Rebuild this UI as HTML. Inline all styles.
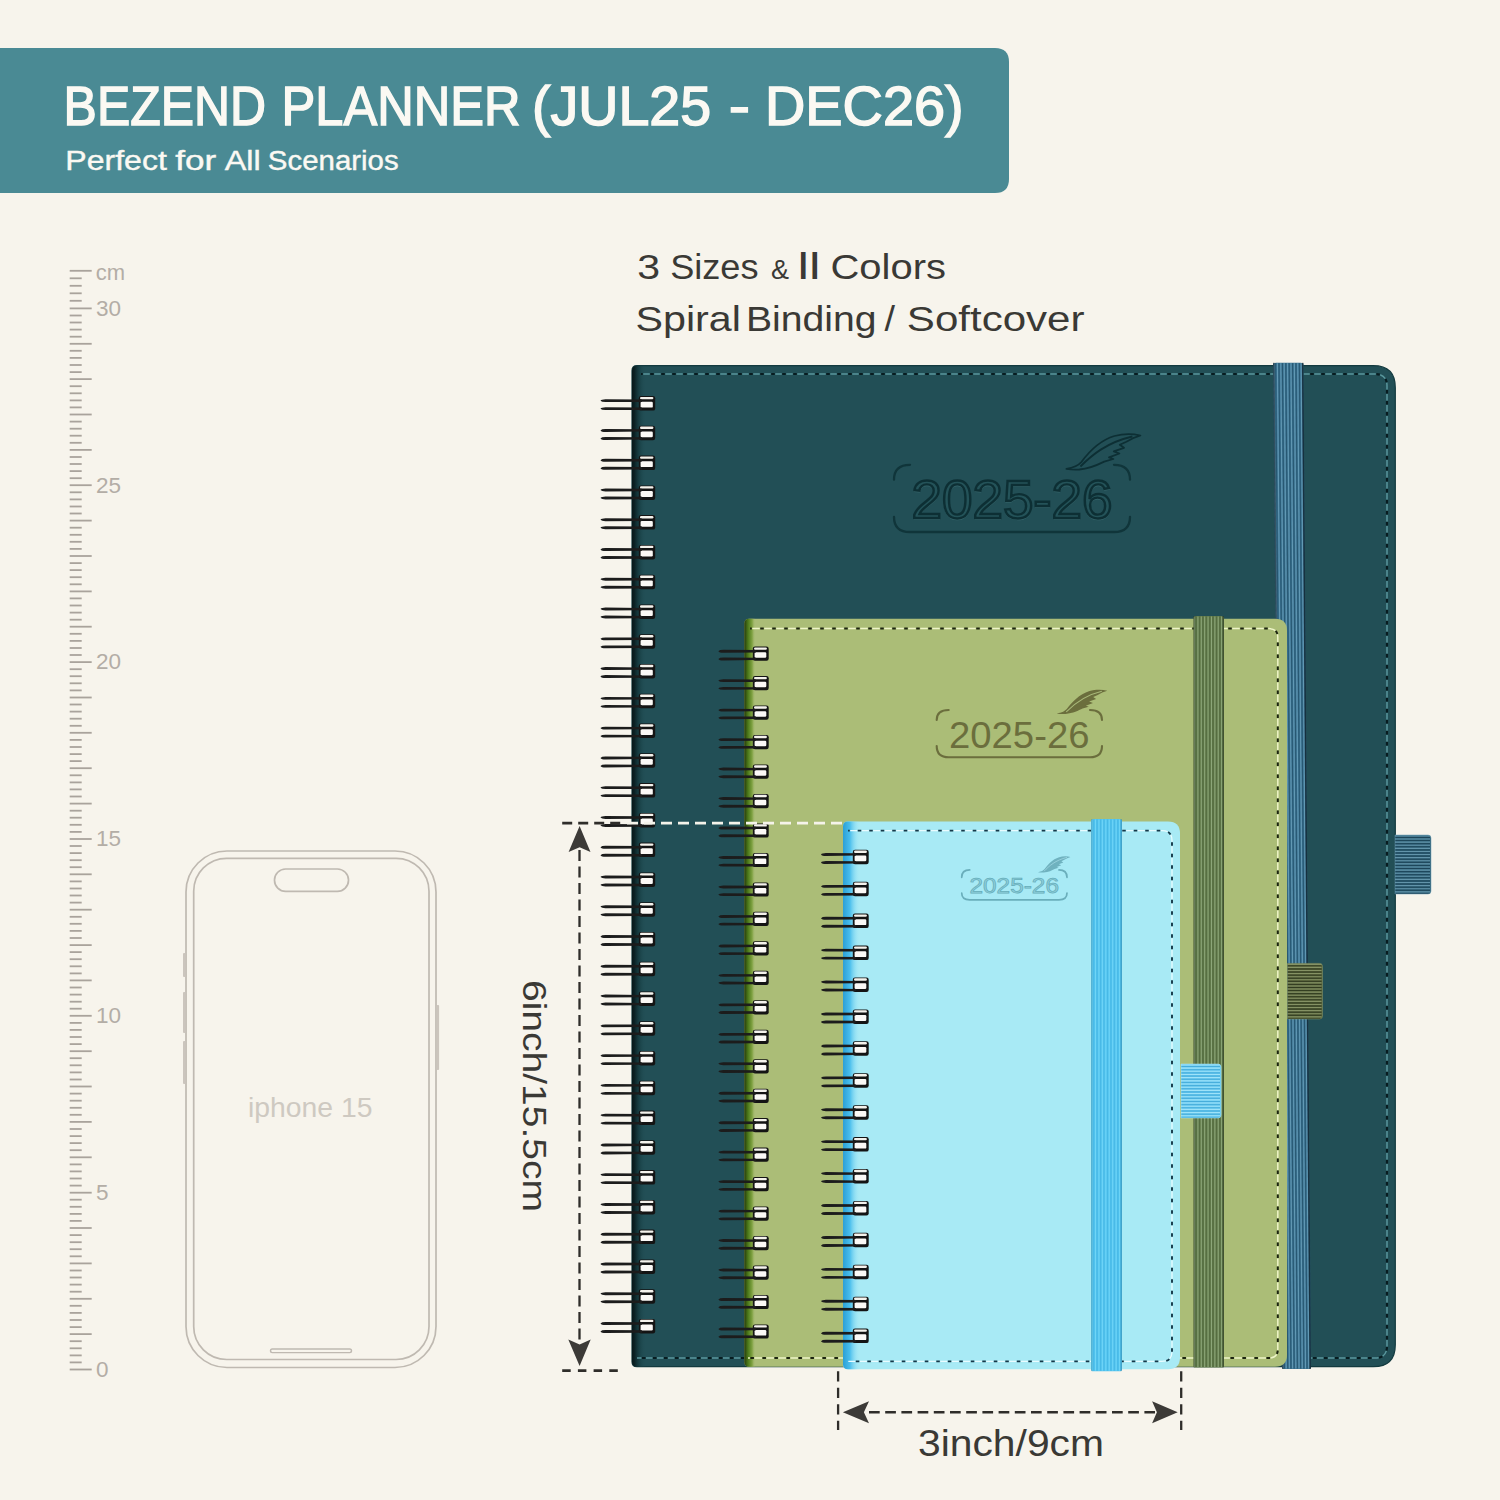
<!DOCTYPE html><html><head><meta charset="utf-8"><style>html,body{margin:0;padding:0;width:1500px;height:1500px;overflow:hidden;background:#f7f4ec;}svg{display:block;}</style></head><body><svg width="1500" height="1500" viewBox="0 0 1500 1500" font-family="Liberation Sans, sans-serif"><rect width="1500" height="1500" fill="#f7f4ec"/><defs><linearGradient id="gshadeBig" x1="0" x2="1" y1="0" y2="0"><stop offset="0" stop-color="#071719"/><stop offset="0.18" stop-color="#0b2225"/><stop offset="0.55" stop-color="#163d42" stop-opacity="0.7"/><stop offset="1" stop-color="#224f56" stop-opacity="0"/></linearGradient><linearGradient id="gshadeGreen" x1="0" x2="1" y1="0" y2="0"><stop offset="0" stop-color="#263a0c"/><stop offset="0.33" stop-color="#4c7a1a"/><stop offset="0.7" stop-color="#80a242"/><stop offset="1" stop-color="#abbd77" stop-opacity="0"/></linearGradient><linearGradient id="gshadeBlue" x1="0" x2="1" y1="0" y2="0"><stop offset="0" stop-color="#2b9fd6"/><stop offset="0.4" stop-color="#48bdec"/><stop offset="1" stop-color="#a8eaf5" stop-opacity="0"/></linearGradient></defs><path d="M-20 48 L995 48 Q1009 48 1009 62 L1009 179 Q1009 193 995 193 L-20 193 Q-20 193 -20 193 L-20 48 Q-20 48 -20 48Z" fill="#4a8a94"/><text x="63.61" y="124.5" font-size="56" fill="#fbf9f3" textLength="202.37" lengthAdjust="spacingAndGlyphs" stroke="#fbf9f3" stroke-width="1.5">BEZEND</text><text x="281.56" y="124.5" font-size="56" fill="#fbf9f3" textLength="238.87" lengthAdjust="spacingAndGlyphs" stroke="#fbf9f3" stroke-width="1.5">PLANNER</text><text x="532.04" y="124.5" font-size="56" fill="#fbf9f3" textLength="179.17" lengthAdjust="spacingAndGlyphs" stroke="#fbf9f3" stroke-width="1.5">(JUL25</text><text x="728.78" y="124.5" font-size="56" fill="#fbf9f3" textLength="21.32" lengthAdjust="spacingAndGlyphs" stroke="#fbf9f3" stroke-width="1.5">-</text><text x="765.03" y="124.5" font-size="56" fill="#fbf9f3" textLength="198.67" lengthAdjust="spacingAndGlyphs" stroke="#fbf9f3" stroke-width="1.5">DEC26)</text><text x="65.30" y="170" font-size="27" fill="#fbf9f3" textLength="101.54" lengthAdjust="spacingAndGlyphs" stroke="#fbf9f3" stroke-width="0.4">Perfect</text><text x="175.21" y="170" font-size="27" fill="#fbf9f3" textLength="40.97" lengthAdjust="spacingAndGlyphs" stroke="#fbf9f3" stroke-width="0.4">for</text><text x="224.79" y="170" font-size="27" fill="#fbf9f3" textLength="35.96" lengthAdjust="spacingAndGlyphs" stroke="#fbf9f3" stroke-width="0.4">All</text><text x="267.89" y="170" font-size="27" fill="#fbf9f3" textLength="130.76" lengthAdjust="spacingAndGlyphs" stroke="#fbf9f3" stroke-width="0.4">Scenarios</text><line x1="69.7" y1="1369.5" x2="91.7" y2="1369.5" stroke="#a9a39c" stroke-width="1.8"/><line x1="69.7" y1="1362.4" x2="81.7" y2="1362.4" stroke="#a9a39c" stroke-width="1.8"/><line x1="69.7" y1="1355.4" x2="81.7" y2="1355.4" stroke="#a9a39c" stroke-width="1.8"/><line x1="69.7" y1="1348.3" x2="81.7" y2="1348.3" stroke="#a9a39c" stroke-width="1.8"/><line x1="69.7" y1="1341.2" x2="81.7" y2="1341.2" stroke="#a9a39c" stroke-width="1.8"/><line x1="69.7" y1="1334.1" x2="91.7" y2="1334.1" stroke="#a9a39c" stroke-width="1.8"/><line x1="69.7" y1="1327.1" x2="81.7" y2="1327.1" stroke="#a9a39c" stroke-width="1.8"/><line x1="69.7" y1="1320.0" x2="81.7" y2="1320.0" stroke="#a9a39c" stroke-width="1.8"/><line x1="69.7" y1="1312.9" x2="81.7" y2="1312.9" stroke="#a9a39c" stroke-width="1.8"/><line x1="69.7" y1="1305.8" x2="81.7" y2="1305.8" stroke="#a9a39c" stroke-width="1.8"/><line x1="69.7" y1="1298.8" x2="91.7" y2="1298.8" stroke="#a9a39c" stroke-width="1.8"/><line x1="69.7" y1="1291.7" x2="81.7" y2="1291.7" stroke="#a9a39c" stroke-width="1.8"/><line x1="69.7" y1="1284.6" x2="81.7" y2="1284.6" stroke="#a9a39c" stroke-width="1.8"/><line x1="69.7" y1="1277.5" x2="81.7" y2="1277.5" stroke="#a9a39c" stroke-width="1.8"/><line x1="69.7" y1="1270.5" x2="81.7" y2="1270.5" stroke="#a9a39c" stroke-width="1.8"/><line x1="69.7" y1="1263.4" x2="91.7" y2="1263.4" stroke="#a9a39c" stroke-width="1.8"/><line x1="69.7" y1="1256.3" x2="81.7" y2="1256.3" stroke="#a9a39c" stroke-width="1.8"/><line x1="69.7" y1="1249.2" x2="81.7" y2="1249.2" stroke="#a9a39c" stroke-width="1.8"/><line x1="69.7" y1="1242.2" x2="81.7" y2="1242.2" stroke="#a9a39c" stroke-width="1.8"/><line x1="69.7" y1="1235.1" x2="81.7" y2="1235.1" stroke="#a9a39c" stroke-width="1.8"/><line x1="69.7" y1="1228.0" x2="91.7" y2="1228.0" stroke="#a9a39c" stroke-width="1.8"/><line x1="69.7" y1="1220.9" x2="81.7" y2="1220.9" stroke="#a9a39c" stroke-width="1.8"/><line x1="69.7" y1="1213.9" x2="81.7" y2="1213.9" stroke="#a9a39c" stroke-width="1.8"/><line x1="69.7" y1="1206.8" x2="81.7" y2="1206.8" stroke="#a9a39c" stroke-width="1.8"/><line x1="69.7" y1="1199.7" x2="81.7" y2="1199.7" stroke="#a9a39c" stroke-width="1.8"/><line x1="69.7" y1="1192.7" x2="91.7" y2="1192.7" stroke="#a9a39c" stroke-width="1.8"/><line x1="69.7" y1="1185.6" x2="81.7" y2="1185.6" stroke="#a9a39c" stroke-width="1.8"/><line x1="69.7" y1="1178.5" x2="81.7" y2="1178.5" stroke="#a9a39c" stroke-width="1.8"/><line x1="69.7" y1="1171.4" x2="81.7" y2="1171.4" stroke="#a9a39c" stroke-width="1.8"/><line x1="69.7" y1="1164.4" x2="81.7" y2="1164.4" stroke="#a9a39c" stroke-width="1.8"/><line x1="69.7" y1="1157.3" x2="91.7" y2="1157.3" stroke="#a9a39c" stroke-width="1.8"/><line x1="69.7" y1="1150.2" x2="81.7" y2="1150.2" stroke="#a9a39c" stroke-width="1.8"/><line x1="69.7" y1="1143.1" x2="81.7" y2="1143.1" stroke="#a9a39c" stroke-width="1.8"/><line x1="69.7" y1="1136.1" x2="81.7" y2="1136.1" stroke="#a9a39c" stroke-width="1.8"/><line x1="69.7" y1="1129.0" x2="81.7" y2="1129.0" stroke="#a9a39c" stroke-width="1.8"/><line x1="69.7" y1="1121.9" x2="91.7" y2="1121.9" stroke="#a9a39c" stroke-width="1.8"/><line x1="69.7" y1="1114.8" x2="81.7" y2="1114.8" stroke="#a9a39c" stroke-width="1.8"/><line x1="69.7" y1="1107.8" x2="81.7" y2="1107.8" stroke="#a9a39c" stroke-width="1.8"/><line x1="69.7" y1="1100.7" x2="81.7" y2="1100.7" stroke="#a9a39c" stroke-width="1.8"/><line x1="69.7" y1="1093.6" x2="81.7" y2="1093.6" stroke="#a9a39c" stroke-width="1.8"/><line x1="69.7" y1="1086.5" x2="91.7" y2="1086.5" stroke="#a9a39c" stroke-width="1.8"/><line x1="69.7" y1="1079.5" x2="81.7" y2="1079.5" stroke="#a9a39c" stroke-width="1.8"/><line x1="69.7" y1="1072.4" x2="81.7" y2="1072.4" stroke="#a9a39c" stroke-width="1.8"/><line x1="69.7" y1="1065.3" x2="81.7" y2="1065.3" stroke="#a9a39c" stroke-width="1.8"/><line x1="69.7" y1="1058.2" x2="81.7" y2="1058.2" stroke="#a9a39c" stroke-width="1.8"/><line x1="69.7" y1="1051.2" x2="91.7" y2="1051.2" stroke="#a9a39c" stroke-width="1.8"/><line x1="69.7" y1="1044.1" x2="81.7" y2="1044.1" stroke="#a9a39c" stroke-width="1.8"/><line x1="69.7" y1="1037.0" x2="81.7" y2="1037.0" stroke="#a9a39c" stroke-width="1.8"/><line x1="69.7" y1="1029.9" x2="81.7" y2="1029.9" stroke="#a9a39c" stroke-width="1.8"/><line x1="69.7" y1="1022.9" x2="81.7" y2="1022.9" stroke="#a9a39c" stroke-width="1.8"/><line x1="69.7" y1="1015.8" x2="91.7" y2="1015.8" stroke="#a9a39c" stroke-width="1.8"/><line x1="69.7" y1="1008.7" x2="81.7" y2="1008.7" stroke="#a9a39c" stroke-width="1.8"/><line x1="69.7" y1="1001.7" x2="81.7" y2="1001.7" stroke="#a9a39c" stroke-width="1.8"/><line x1="69.7" y1="994.6" x2="81.7" y2="994.6" stroke="#a9a39c" stroke-width="1.8"/><line x1="69.7" y1="987.5" x2="81.7" y2="987.5" stroke="#a9a39c" stroke-width="1.8"/><line x1="69.7" y1="980.4" x2="91.7" y2="980.4" stroke="#a9a39c" stroke-width="1.8"/><line x1="69.7" y1="973.4" x2="81.7" y2="973.4" stroke="#a9a39c" stroke-width="1.8"/><line x1="69.7" y1="966.3" x2="81.7" y2="966.3" stroke="#a9a39c" stroke-width="1.8"/><line x1="69.7" y1="959.2" x2="81.7" y2="959.2" stroke="#a9a39c" stroke-width="1.8"/><line x1="69.7" y1="952.1" x2="81.7" y2="952.1" stroke="#a9a39c" stroke-width="1.8"/><line x1="69.7" y1="945.1" x2="91.7" y2="945.1" stroke="#a9a39c" stroke-width="1.8"/><line x1="69.7" y1="938.0" x2="81.7" y2="938.0" stroke="#a9a39c" stroke-width="1.8"/><line x1="69.7" y1="930.9" x2="81.7" y2="930.9" stroke="#a9a39c" stroke-width="1.8"/><line x1="69.7" y1="923.8" x2="81.7" y2="923.8" stroke="#a9a39c" stroke-width="1.8"/><line x1="69.7" y1="916.8" x2="81.7" y2="916.8" stroke="#a9a39c" stroke-width="1.8"/><line x1="69.7" y1="909.7" x2="91.7" y2="909.7" stroke="#a9a39c" stroke-width="1.8"/><line x1="69.7" y1="902.6" x2="81.7" y2="902.6" stroke="#a9a39c" stroke-width="1.8"/><line x1="69.7" y1="895.5" x2="81.7" y2="895.5" stroke="#a9a39c" stroke-width="1.8"/><line x1="69.7" y1="888.5" x2="81.7" y2="888.5" stroke="#a9a39c" stroke-width="1.8"/><line x1="69.7" y1="881.4" x2="81.7" y2="881.4" stroke="#a9a39c" stroke-width="1.8"/><line x1="69.7" y1="874.3" x2="91.7" y2="874.3" stroke="#a9a39c" stroke-width="1.8"/><line x1="69.7" y1="867.2" x2="81.7" y2="867.2" stroke="#a9a39c" stroke-width="1.8"/><line x1="69.7" y1="860.2" x2="81.7" y2="860.2" stroke="#a9a39c" stroke-width="1.8"/><line x1="69.7" y1="853.1" x2="81.7" y2="853.1" stroke="#a9a39c" stroke-width="1.8"/><line x1="69.7" y1="846.0" x2="81.7" y2="846.0" stroke="#a9a39c" stroke-width="1.8"/><line x1="69.7" y1="839.0" x2="91.7" y2="839.0" stroke="#a9a39c" stroke-width="1.8"/><line x1="69.7" y1="831.9" x2="81.7" y2="831.9" stroke="#a9a39c" stroke-width="1.8"/><line x1="69.7" y1="824.8" x2="81.7" y2="824.8" stroke="#a9a39c" stroke-width="1.8"/><line x1="69.7" y1="817.7" x2="81.7" y2="817.7" stroke="#a9a39c" stroke-width="1.8"/><line x1="69.7" y1="810.7" x2="81.7" y2="810.7" stroke="#a9a39c" stroke-width="1.8"/><line x1="69.7" y1="803.6" x2="91.7" y2="803.6" stroke="#a9a39c" stroke-width="1.8"/><line x1="69.7" y1="796.5" x2="81.7" y2="796.5" stroke="#a9a39c" stroke-width="1.8"/><line x1="69.7" y1="789.4" x2="81.7" y2="789.4" stroke="#a9a39c" stroke-width="1.8"/><line x1="69.7" y1="782.4" x2="81.7" y2="782.4" stroke="#a9a39c" stroke-width="1.8"/><line x1="69.7" y1="775.3" x2="81.7" y2="775.3" stroke="#a9a39c" stroke-width="1.8"/><line x1="69.7" y1="768.2" x2="91.7" y2="768.2" stroke="#a9a39c" stroke-width="1.8"/><line x1="69.7" y1="761.1" x2="81.7" y2="761.1" stroke="#a9a39c" stroke-width="1.8"/><line x1="69.7" y1="754.1" x2="81.7" y2="754.1" stroke="#a9a39c" stroke-width="1.8"/><line x1="69.7" y1="747.0" x2="81.7" y2="747.0" stroke="#a9a39c" stroke-width="1.8"/><line x1="69.7" y1="739.9" x2="81.7" y2="739.9" stroke="#a9a39c" stroke-width="1.8"/><line x1="69.7" y1="732.8" x2="91.7" y2="732.8" stroke="#a9a39c" stroke-width="1.8"/><line x1="69.7" y1="725.8" x2="81.7" y2="725.8" stroke="#a9a39c" stroke-width="1.8"/><line x1="69.7" y1="718.7" x2="81.7" y2="718.7" stroke="#a9a39c" stroke-width="1.8"/><line x1="69.7" y1="711.6" x2="81.7" y2="711.6" stroke="#a9a39c" stroke-width="1.8"/><line x1="69.7" y1="704.5" x2="81.7" y2="704.5" stroke="#a9a39c" stroke-width="1.8"/><line x1="69.7" y1="697.5" x2="91.7" y2="697.5" stroke="#a9a39c" stroke-width="1.8"/><line x1="69.7" y1="690.4" x2="81.7" y2="690.4" stroke="#a9a39c" stroke-width="1.8"/><line x1="69.7" y1="683.3" x2="81.7" y2="683.3" stroke="#a9a39c" stroke-width="1.8"/><line x1="69.7" y1="676.2" x2="81.7" y2="676.2" stroke="#a9a39c" stroke-width="1.8"/><line x1="69.7" y1="669.2" x2="81.7" y2="669.2" stroke="#a9a39c" stroke-width="1.8"/><line x1="69.7" y1="662.1" x2="91.7" y2="662.1" stroke="#a9a39c" stroke-width="1.8"/><line x1="69.7" y1="655.0" x2="81.7" y2="655.0" stroke="#a9a39c" stroke-width="1.8"/><line x1="69.7" y1="648.0" x2="81.7" y2="648.0" stroke="#a9a39c" stroke-width="1.8"/><line x1="69.7" y1="640.9" x2="81.7" y2="640.9" stroke="#a9a39c" stroke-width="1.8"/><line x1="69.7" y1="633.8" x2="81.7" y2="633.8" stroke="#a9a39c" stroke-width="1.8"/><line x1="69.7" y1="626.7" x2="91.7" y2="626.7" stroke="#a9a39c" stroke-width="1.8"/><line x1="69.7" y1="619.7" x2="81.7" y2="619.7" stroke="#a9a39c" stroke-width="1.8"/><line x1="69.7" y1="612.6" x2="81.7" y2="612.6" stroke="#a9a39c" stroke-width="1.8"/><line x1="69.7" y1="605.5" x2="81.7" y2="605.5" stroke="#a9a39c" stroke-width="1.8"/><line x1="69.7" y1="598.4" x2="81.7" y2="598.4" stroke="#a9a39c" stroke-width="1.8"/><line x1="69.7" y1="591.4" x2="91.7" y2="591.4" stroke="#a9a39c" stroke-width="1.8"/><line x1="69.7" y1="584.3" x2="81.7" y2="584.3" stroke="#a9a39c" stroke-width="1.8"/><line x1="69.7" y1="577.2" x2="81.7" y2="577.2" stroke="#a9a39c" stroke-width="1.8"/><line x1="69.7" y1="570.1" x2="81.7" y2="570.1" stroke="#a9a39c" stroke-width="1.8"/><line x1="69.7" y1="563.1" x2="81.7" y2="563.1" stroke="#a9a39c" stroke-width="1.8"/><line x1="69.7" y1="556.0" x2="91.7" y2="556.0" stroke="#a9a39c" stroke-width="1.8"/><line x1="69.7" y1="548.9" x2="81.7" y2="548.9" stroke="#a9a39c" stroke-width="1.8"/><line x1="69.7" y1="541.8" x2="81.7" y2="541.8" stroke="#a9a39c" stroke-width="1.8"/><line x1="69.7" y1="534.8" x2="81.7" y2="534.8" stroke="#a9a39c" stroke-width="1.8"/><line x1="69.7" y1="527.7" x2="81.7" y2="527.7" stroke="#a9a39c" stroke-width="1.8"/><line x1="69.7" y1="520.6" x2="91.7" y2="520.6" stroke="#a9a39c" stroke-width="1.8"/><line x1="69.7" y1="513.5" x2="81.7" y2="513.5" stroke="#a9a39c" stroke-width="1.8"/><line x1="69.7" y1="506.5" x2="81.7" y2="506.5" stroke="#a9a39c" stroke-width="1.8"/><line x1="69.7" y1="499.4" x2="81.7" y2="499.4" stroke="#a9a39c" stroke-width="1.8"/><line x1="69.7" y1="492.3" x2="81.7" y2="492.3" stroke="#a9a39c" stroke-width="1.8"/><line x1="69.7" y1="485.2" x2="91.7" y2="485.2" stroke="#a9a39c" stroke-width="1.8"/><line x1="69.7" y1="478.2" x2="81.7" y2="478.2" stroke="#a9a39c" stroke-width="1.8"/><line x1="69.7" y1="471.1" x2="81.7" y2="471.1" stroke="#a9a39c" stroke-width="1.8"/><line x1="69.7" y1="464.0" x2="81.7" y2="464.0" stroke="#a9a39c" stroke-width="1.8"/><line x1="69.7" y1="457.0" x2="81.7" y2="457.0" stroke="#a9a39c" stroke-width="1.8"/><line x1="69.7" y1="449.9" x2="91.7" y2="449.9" stroke="#a9a39c" stroke-width="1.8"/><line x1="69.7" y1="442.8" x2="81.7" y2="442.8" stroke="#a9a39c" stroke-width="1.8"/><line x1="69.7" y1="435.7" x2="81.7" y2="435.7" stroke="#a9a39c" stroke-width="1.8"/><line x1="69.7" y1="428.7" x2="81.7" y2="428.7" stroke="#a9a39c" stroke-width="1.8"/><line x1="69.7" y1="421.6" x2="81.7" y2="421.6" stroke="#a9a39c" stroke-width="1.8"/><line x1="69.7" y1="414.5" x2="91.7" y2="414.5" stroke="#a9a39c" stroke-width="1.8"/><line x1="69.7" y1="407.4" x2="81.7" y2="407.4" stroke="#a9a39c" stroke-width="1.8"/><line x1="69.7" y1="400.4" x2="81.7" y2="400.4" stroke="#a9a39c" stroke-width="1.8"/><line x1="69.7" y1="393.3" x2="81.7" y2="393.3" stroke="#a9a39c" stroke-width="1.8"/><line x1="69.7" y1="386.2" x2="81.7" y2="386.2" stroke="#a9a39c" stroke-width="1.8"/><line x1="69.7" y1="379.1" x2="91.7" y2="379.1" stroke="#a9a39c" stroke-width="1.8"/><line x1="69.7" y1="372.1" x2="81.7" y2="372.1" stroke="#a9a39c" stroke-width="1.8"/><line x1="69.7" y1="365.0" x2="81.7" y2="365.0" stroke="#a9a39c" stroke-width="1.8"/><line x1="69.7" y1="357.9" x2="81.7" y2="357.9" stroke="#a9a39c" stroke-width="1.8"/><line x1="69.7" y1="350.8" x2="81.7" y2="350.8" stroke="#a9a39c" stroke-width="1.8"/><line x1="69.7" y1="343.8" x2="91.7" y2="343.8" stroke="#a9a39c" stroke-width="1.8"/><line x1="69.7" y1="336.7" x2="81.7" y2="336.7" stroke="#a9a39c" stroke-width="1.8"/><line x1="69.7" y1="329.6" x2="81.7" y2="329.6" stroke="#a9a39c" stroke-width="1.8"/><line x1="69.7" y1="322.5" x2="81.7" y2="322.5" stroke="#a9a39c" stroke-width="1.8"/><line x1="69.7" y1="315.5" x2="81.7" y2="315.5" stroke="#a9a39c" stroke-width="1.8"/><line x1="69.7" y1="308.4" x2="91.7" y2="308.4" stroke="#a9a39c" stroke-width="1.8"/><line x1="69.7" y1="300.8" x2="81.7" y2="300.8" stroke="#a9a39c" stroke-width="1.8"/><line x1="69.7" y1="293.3" x2="81.7" y2="293.3" stroke="#a9a39c" stroke-width="1.8"/><line x1="69.7" y1="285.8" x2="81.7" y2="285.8" stroke="#a9a39c" stroke-width="1.8"/><line x1="69.7" y1="278.3" x2="81.7" y2="278.3" stroke="#a9a39c" stroke-width="1.8"/><line x1="69.7" y1="270.8" x2="91.7" y2="270.8" stroke="#a9a39c" stroke-width="1.8"/><text x="95.8" y="280" font-size="22" fill="#b3ada6">cm</text><text x="96" y="315.6" font-size="22.5" fill="#b3ada6">30</text><text x="96" y="492.5" font-size="22.5" fill="#b3ada6">25</text><text x="96" y="669.3" font-size="22.5" fill="#b3ada6">20</text><text x="96" y="846.2" font-size="22.5" fill="#b3ada6">15</text><text x="96" y="1023.0" font-size="22.5" fill="#b3ada6">10</text><text x="96" y="1199.9" font-size="22.5" fill="#b3ada6">5</text><text x="96" y="1376.7" font-size="22.5" fill="#b3ada6">0</text><rect x="186" y="851" width="250" height="516.5" rx="41" fill="none" stroke="#bfb9b1" stroke-width="1.7"/><rect x="193.7" y="858.3" width="235.3" height="501.2" rx="33" fill="none" stroke="#bfb9b1" stroke-width="1.7"/><rect x="274.5" y="869" width="74" height="22.3" rx="11.1" fill="none" stroke="#bfb9b1" stroke-width="1.7"/><rect x="270.5" y="1349" width="81" height="3.6" rx="1.8" fill="none" stroke="#bfb9b1" stroke-width="1.4"/><rect x="183" y="953" width="2.6" height="24" rx="1" fill="#cbc5bd"/><rect x="183" y="992" width="2.6" height="41" rx="1" fill="#cbc5bd"/><rect x="183" y="1041" width="2.6" height="43" rx="1" fill="#cbc5bd"/><rect x="436.5" y="1005" width="2.6" height="65" rx="1" fill="#cbc5bd"/><text x="248" y="1117" font-size="28" fill="#cec9c1" textLength="124.5" lengthAdjust="spacingAndGlyphs">iphone 15</text><text x="637.15" y="279.3" font-size="35" fill="#3a3935" textLength="22.84" lengthAdjust="spacingAndGlyphs" >3</text><text x="670.15" y="279.3" font-size="35" fill="#3a3935" textLength="88.42" lengthAdjust="spacingAndGlyphs" >Sizes</text><text x="771.10" y="279.3" font-size="27" fill="#3a3935" textLength="17.99" lengthAdjust="spacingAndGlyphs" >&amp;</text><text x="797.63" y="279.3" font-size="36" fill="#3a3935" textLength="22.94" lengthAdjust="spacingAndGlyphs" >ll</text><text x="830.44" y="279.3" font-size="35" fill="#3a3935" textLength="115.49" lengthAdjust="spacingAndGlyphs" >Colors</text><text x="635.46" y="330.7" font-size="35" fill="#3a3935" textLength="105.42" lengthAdjust="spacingAndGlyphs" >Spiral</text><text x="745.98" y="330.7" font-size="35" fill="#3a3935" textLength="130.61" lengthAdjust="spacingAndGlyphs" >Binding</text><text x="884.42" y="330.7" font-size="35" fill="#3a3935" textLength="10.51" lengthAdjust="spacingAndGlyphs" >/</text><text x="906.83" y="330.7" font-size="35" fill="#3a3935" textLength="177.68" lengthAdjust="spacingAndGlyphs" >Softcover</text><path d="M637 365.7 L1373.3 365.7 Q1395.3 365.7 1395.3 387.7 L1395.3 1344.7 Q1395.3 1366.7 1373.3 1366.7 L637 1366.7 Q632 1366.7 632 1361.7 L632 370.7 Q632 365.7 637 365.7Z" fill="#224f56" stroke="#133a3f" stroke-width="1.2"/><path d="M632 371 Q632 365.7 637 365.7 L646 365.7 L646 1366.7 L637 1366.7 Q632 1366.7 632 1361.7Z" fill="url(#gshadeBig)"/><path d="M641 374 L1375 374 Q1387 374 1387 386 L1387 1346 Q1387 1358 1375 1358 L637 1358" fill="none" stroke="#5a979d" stroke-opacity="1.0" stroke-width="1.5" stroke-dasharray="6.5 4.5" stroke-dashoffset="-2.25"/><path d="M641 374 L1375 374 Q1387 374 1387 386 L1387 1346 Q1387 1358 1375 1358 L637 1358" fill="none" stroke="#081c20" stroke-width="2.2" stroke-dasharray="3.5 7.5" stroke-dashoffset="1.75" stroke-linecap="butt"/><path d="M894.0 479.7 Q894.0 464.8 910.0 464.8" fill="none" stroke="#10353a" stroke-width="2.3" stroke-linecap="round"/><path d="M1114.0 464.8 Q1130.0 464.8 1130.0 479.7" fill="none" stroke="#10353a" stroke-width="2.3" stroke-linecap="round"/><path d="M894.0 517.0 Q894.0 532.0 910.0 532.0 L1114.0 532.0 Q1130.0 532.0 1130.0 517.0" fill="none" stroke="#10353a" stroke-width="2.3" stroke-linecap="round"/><text x="911.5" y="519.3" font-size="53" textLength="201" lengthAdjust="spacingAndGlyphs" fill="none" stroke="#3d6d73" stroke-width="1.6" opacity="0.8">2025-26</text><text x="911.5" y="518" font-size="53" textLength="201" lengthAdjust="spacingAndGlyphs" fill="#245359" stroke="#0d2f34" stroke-width="2.4">2025-26</text><g transform="translate(1066.40 433.50) scale(1.0000 1.0000)"><path d="M0 35.3 C8 34 12 32 15 28.5 C22 19 33 7 48 2.5 C56 0.3 66 0 74 2 L66.6 4.7 L60 8.3 L53.4 11.3 L57.6 14.3 L47.4 17.9 L53 20 L42.6 23.9 L47 25.5 L37.8 28.1 C32 31 24 35 13 36 C8 36.3 4 36 0 35.3Z" fill="#224f56" stroke="#0d2f34" stroke-width="1.80" stroke-linejoin="round"/><path d="M14 33 C25 22 40 9 66 3" fill="none" stroke="#0d2f34" stroke-width="1.80"/></g><path d="M1273 364.2 Q1273 362.7 1276 362.7 L1300.5 362.7 Q1303.5 362.7 1303.5 364.2 L1311 1367.5 Q1311 1369 1308 1369 L1285 1369 Q1282 1369 1282 1367.5Z" fill="#3a7290"/><line x1="1274.02" y1="363.2" x2="1282.97" y2="1368.5" stroke="#6aa0bb" stroke-width="1.1" opacity="0.85"/><line x1="1275.64" y1="363.2" x2="1284.51" y2="1368.5" stroke="#1d4760" stroke-width="0.9" opacity="0.7"/><line x1="1277.41" y1="363.2" x2="1286.19" y2="1368.5" stroke="#6aa0bb" stroke-width="1.1" opacity="0.85"/><line x1="1279.03" y1="363.2" x2="1287.74" y2="1368.5" stroke="#1d4760" stroke-width="0.9" opacity="0.7"/><line x1="1280.79" y1="363.2" x2="1289.41" y2="1368.5" stroke="#6aa0bb" stroke-width="1.1" opacity="0.85"/><line x1="1282.42" y1="363.2" x2="1290.96" y2="1368.5" stroke="#1d4760" stroke-width="0.9" opacity="0.7"/><line x1="1284.18" y1="363.2" x2="1292.63" y2="1368.5" stroke="#6aa0bb" stroke-width="1.1" opacity="0.85"/><line x1="1285.81" y1="363.2" x2="1294.18" y2="1368.5" stroke="#1d4760" stroke-width="0.9" opacity="0.7"/><line x1="1287.57" y1="363.2" x2="1295.86" y2="1368.5" stroke="#6aa0bb" stroke-width="1.1" opacity="0.85"/><line x1="1289.20" y1="363.2" x2="1297.40" y2="1368.5" stroke="#1d4760" stroke-width="0.9" opacity="0.7"/><line x1="1290.96" y1="363.2" x2="1299.08" y2="1368.5" stroke="#6aa0bb" stroke-width="1.1" opacity="0.85"/><line x1="1292.59" y1="363.2" x2="1300.62" y2="1368.5" stroke="#1d4760" stroke-width="0.9" opacity="0.7"/><line x1="1294.35" y1="363.2" x2="1302.30" y2="1368.5" stroke="#6aa0bb" stroke-width="1.1" opacity="0.85"/><line x1="1295.98" y1="363.2" x2="1303.85" y2="1368.5" stroke="#1d4760" stroke-width="0.9" opacity="0.7"/><line x1="1297.74" y1="363.2" x2="1305.52" y2="1368.5" stroke="#6aa0bb" stroke-width="1.1" opacity="0.85"/><line x1="1299.37" y1="363.2" x2="1307.07" y2="1368.5" stroke="#1d4760" stroke-width="0.9" opacity="0.7"/><line x1="1301.13" y1="363.2" x2="1308.74" y2="1368.5" stroke="#6aa0bb" stroke-width="1.1" opacity="0.85"/><line x1="1302.75" y1="363.2" x2="1310.29" y2="1368.5" stroke="#1d4760" stroke-width="0.9" opacity="0.7"/><line x1="1273.8" y1="362.7" x2="1282.8" y2="1369" stroke="#000" stroke-opacity="0.45" stroke-width="1.6"/><line x1="1302.7" y1="362.7" x2="1310.2" y2="1369" stroke="#000" stroke-opacity="0.45" stroke-width="1.6"/><path d="M1395 835 L1428 835 Q1431 835 1431 838 L1431 891 Q1431 894 1428 894 L1395 894 Q1395 894 1395 894 L1395 835 Q1395 835 1395 835Z" fill="#33647a"/><line x1="1395" y1="835.93" x2="1430" y2="835.93" stroke="#6b9db3" stroke-width="1.1" opacity="0.85"/><line x1="1395" y1="837.48" x2="1430" y2="837.48" stroke="#173d50" stroke-width="1.0" opacity="0.8"/><line x1="1395" y1="839.04" x2="1430" y2="839.04" stroke="#6b9db3" stroke-width="1.1" opacity="0.85"/><line x1="1395" y1="840.59" x2="1430" y2="840.59" stroke="#173d50" stroke-width="1.0" opacity="0.8"/><line x1="1395" y1="842.14" x2="1430" y2="842.14" stroke="#6b9db3" stroke-width="1.1" opacity="0.85"/><line x1="1395" y1="843.69" x2="1430" y2="843.69" stroke="#173d50" stroke-width="1.0" opacity="0.8"/><line x1="1395" y1="845.25" x2="1430" y2="845.25" stroke="#6b9db3" stroke-width="1.1" opacity="0.85"/><line x1="1395" y1="846.80" x2="1430" y2="846.80" stroke="#173d50" stroke-width="1.0" opacity="0.8"/><line x1="1395" y1="848.35" x2="1430" y2="848.35" stroke="#6b9db3" stroke-width="1.1" opacity="0.85"/><line x1="1395" y1="849.91" x2="1430" y2="849.91" stroke="#173d50" stroke-width="1.0" opacity="0.8"/><line x1="1395" y1="851.46" x2="1430" y2="851.46" stroke="#6b9db3" stroke-width="1.1" opacity="0.85"/><line x1="1395" y1="853.01" x2="1430" y2="853.01" stroke="#173d50" stroke-width="1.0" opacity="0.8"/><line x1="1395" y1="854.56" x2="1430" y2="854.56" stroke="#6b9db3" stroke-width="1.1" opacity="0.85"/><line x1="1395" y1="856.12" x2="1430" y2="856.12" stroke="#173d50" stroke-width="1.0" opacity="0.8"/><line x1="1395" y1="857.67" x2="1430" y2="857.67" stroke="#6b9db3" stroke-width="1.1" opacity="0.85"/><line x1="1395" y1="859.22" x2="1430" y2="859.22" stroke="#173d50" stroke-width="1.0" opacity="0.8"/><line x1="1395" y1="860.77" x2="1430" y2="860.77" stroke="#6b9db3" stroke-width="1.1" opacity="0.85"/><line x1="1395" y1="862.33" x2="1430" y2="862.33" stroke="#173d50" stroke-width="1.0" opacity="0.8"/><line x1="1395" y1="863.88" x2="1430" y2="863.88" stroke="#6b9db3" stroke-width="1.1" opacity="0.85"/><line x1="1395" y1="865.43" x2="1430" y2="865.43" stroke="#173d50" stroke-width="1.0" opacity="0.8"/><line x1="1395" y1="866.98" x2="1430" y2="866.98" stroke="#6b9db3" stroke-width="1.1" opacity="0.85"/><line x1="1395" y1="868.54" x2="1430" y2="868.54" stroke="#173d50" stroke-width="1.0" opacity="0.8"/><line x1="1395" y1="870.09" x2="1430" y2="870.09" stroke="#6b9db3" stroke-width="1.1" opacity="0.85"/><line x1="1395" y1="871.64" x2="1430" y2="871.64" stroke="#173d50" stroke-width="1.0" opacity="0.8"/><line x1="1395" y1="873.19" x2="1430" y2="873.19" stroke="#6b9db3" stroke-width="1.1" opacity="0.85"/><line x1="1395" y1="874.75" x2="1430" y2="874.75" stroke="#173d50" stroke-width="1.0" opacity="0.8"/><line x1="1395" y1="876.30" x2="1430" y2="876.30" stroke="#6b9db3" stroke-width="1.1" opacity="0.85"/><line x1="1395" y1="877.85" x2="1430" y2="877.85" stroke="#173d50" stroke-width="1.0" opacity="0.8"/><line x1="1395" y1="879.41" x2="1430" y2="879.41" stroke="#6b9db3" stroke-width="1.1" opacity="0.85"/><line x1="1395" y1="880.96" x2="1430" y2="880.96" stroke="#173d50" stroke-width="1.0" opacity="0.8"/><line x1="1395" y1="882.51" x2="1430" y2="882.51" stroke="#6b9db3" stroke-width="1.1" opacity="0.85"/><line x1="1395" y1="884.06" x2="1430" y2="884.06" stroke="#173d50" stroke-width="1.0" opacity="0.8"/><line x1="1395" y1="885.62" x2="1430" y2="885.62" stroke="#6b9db3" stroke-width="1.1" opacity="0.85"/><line x1="1395" y1="887.17" x2="1430" y2="887.17" stroke="#173d50" stroke-width="1.0" opacity="0.8"/><line x1="1395" y1="888.72" x2="1430" y2="888.72" stroke="#6b9db3" stroke-width="1.1" opacity="0.85"/><line x1="1395" y1="890.27" x2="1430" y2="890.27" stroke="#173d50" stroke-width="1.0" opacity="0.8"/><line x1="1395" y1="891.83" x2="1430" y2="891.83" stroke="#6b9db3" stroke-width="1.1" opacity="0.85"/><line x1="1395" y1="893.38" x2="1430" y2="893.38" stroke="#173d50" stroke-width="1.0" opacity="0.8"/><path d="M1395 835 L1428 835 Q1431 835 1431 838 L1431 891 Q1431 894 1428 894 L1395 894 Q1395 894 1395 894 L1395 835 Q1395 835 1395 835Z" fill="none" stroke="#6b9db3" stroke-opacity="0.5" stroke-width="1"/><rect x="638.8" y="396.1" width="16.4" height="14.5" rx="2.2" fill="#141414"/><rect x="640.0" y="396.9" width="13.4" height="2.4" rx="1.2" fill="#f4f2ec"/><rect x="640.6" y="401.8" width="12.2" height="5.8" rx="1.2" fill="#fbf9f6"/><path d="M600.5 400.7 Q601.5 399.2 605.5 399.2 L642.0 399.5 L642.0 401.9 L605.5 402.1 Q601.5 402.1 600.5 400.7Z" fill="#1c1c1c"/><path d="M600.5 408.7 Q601.5 407.2 605.5 407.2 L642.0 407.5 L642.0 409.9 L605.5 410.1 Q601.5 410.1 600.5 408.7Z" fill="#1c1c1c"/><rect x="638.8" y="425.8" width="16.4" height="14.5" rx="2.2" fill="#141414"/><rect x="640.0" y="426.6" width="13.4" height="2.4" rx="1.2" fill="#f4f2ec"/><rect x="640.6" y="431.5" width="12.2" height="5.8" rx="1.2" fill="#fbf9f6"/><path d="M600.5 430.4 Q601.5 429.0 605.5 429.0 L642.0 429.2 L642.0 431.6 L605.5 431.9 Q601.5 431.9 600.5 430.4Z" fill="#1c1c1c"/><path d="M600.5 438.4 Q601.5 437.0 605.5 437.0 L642.0 437.2 L642.0 439.6 L605.5 439.9 Q601.5 439.9 600.5 438.4Z" fill="#1c1c1c"/><rect x="638.8" y="455.6" width="16.4" height="14.5" rx="2.2" fill="#141414"/><rect x="640.0" y="456.4" width="13.4" height="2.4" rx="1.2" fill="#f4f2ec"/><rect x="640.6" y="461.3" width="12.2" height="5.8" rx="1.2" fill="#fbf9f6"/><path d="M600.5 460.2 Q601.5 458.8 605.5 458.8 L642.0 459.0 L642.0 461.4 L605.5 461.7 Q601.5 461.7 600.5 460.2Z" fill="#1c1c1c"/><path d="M600.5 468.2 Q601.5 466.8 605.5 466.8 L642.0 467.0 L642.0 469.4 L605.5 469.7 Q601.5 469.7 600.5 468.2Z" fill="#1c1c1c"/><rect x="638.8" y="485.4" width="16.4" height="14.5" rx="2.2" fill="#141414"/><rect x="640.0" y="486.2" width="13.4" height="2.4" rx="1.2" fill="#f4f2ec"/><rect x="640.6" y="491.1" width="12.2" height="5.8" rx="1.2" fill="#fbf9f6"/><path d="M600.5 490.0 Q601.5 488.5 605.5 488.5 L642.0 488.8 L642.0 491.2 L605.5 491.4 Q601.5 491.4 600.5 490.0Z" fill="#1c1c1c"/><path d="M600.5 498.0 Q601.5 496.5 605.5 496.5 L642.0 496.8 L642.0 499.2 L605.5 499.4 Q601.5 499.4 600.5 498.0Z" fill="#1c1c1c"/><rect x="638.8" y="515.1" width="16.4" height="14.5" rx="2.2" fill="#141414"/><rect x="640.0" y="516.0" width="13.4" height="2.4" rx="1.2" fill="#f4f2ec"/><rect x="640.6" y="520.9" width="12.2" height="5.8" rx="1.2" fill="#fbf9f6"/><path d="M600.5 519.8 Q601.5 518.3 605.5 518.3 L642.0 518.5 L642.0 521.0 L605.5 521.2 Q601.5 521.2 600.5 519.8Z" fill="#1c1c1c"/><path d="M600.5 527.8 Q601.5 526.3 605.5 526.3 L642.0 526.5 L642.0 529.0 L605.5 529.2 Q601.5 529.2 600.5 527.8Z" fill="#1c1c1c"/><rect x="638.8" y="544.9" width="16.4" height="14.5" rx="2.2" fill="#141414"/><rect x="640.0" y="545.7" width="13.4" height="2.4" rx="1.2" fill="#f4f2ec"/><rect x="640.6" y="550.6" width="12.2" height="5.8" rx="1.2" fill="#fbf9f6"/><path d="M600.5 549.5 Q601.5 548.1 605.5 548.1 L642.0 548.3 L642.0 550.7 L605.5 551.0 Q601.5 551.0 600.5 549.5Z" fill="#1c1c1c"/><path d="M600.5 557.5 Q601.5 556.1 605.5 556.1 L642.0 556.3 L642.0 558.7 L605.5 559.0 Q601.5 559.0 600.5 557.5Z" fill="#1c1c1c"/><rect x="638.8" y="574.7" width="16.4" height="14.5" rx="2.2" fill="#141414"/><rect x="640.0" y="575.5" width="13.4" height="2.4" rx="1.2" fill="#f4f2ec"/><rect x="640.6" y="580.4" width="12.2" height="5.8" rx="1.2" fill="#fbf9f6"/><path d="M600.5 579.3 Q601.5 577.8 605.5 577.8 L642.0 578.1 L642.0 580.5 L605.5 580.7 Q601.5 580.7 600.5 579.3Z" fill="#1c1c1c"/><path d="M600.5 587.3 Q601.5 585.8 605.5 585.8 L642.0 586.1 L642.0 588.5 L605.5 588.7 Q601.5 588.7 600.5 587.3Z" fill="#1c1c1c"/><rect x="638.8" y="604.5" width="16.4" height="14.5" rx="2.2" fill="#141414"/><rect x="640.0" y="605.3" width="13.4" height="2.4" rx="1.2" fill="#f4f2ec"/><rect x="640.6" y="610.2" width="12.2" height="5.8" rx="1.2" fill="#fbf9f6"/><path d="M600.5 609.1 Q601.5 607.6 605.5 607.6 L642.0 607.9 L642.0 610.3 L605.5 610.5 Q601.5 610.5 600.5 609.1Z" fill="#1c1c1c"/><path d="M600.5 617.1 Q601.5 615.6 605.5 615.6 L642.0 615.9 L642.0 618.3 L605.5 618.5 Q601.5 618.5 600.5 617.1Z" fill="#1c1c1c"/><rect x="638.8" y="634.2" width="16.4" height="14.5" rx="2.2" fill="#141414"/><rect x="640.0" y="635.0" width="13.4" height="2.4" rx="1.2" fill="#f4f2ec"/><rect x="640.6" y="639.9" width="12.2" height="5.8" rx="1.2" fill="#fbf9f6"/><path d="M600.5 638.8 Q601.5 637.4 605.5 637.4 L642.0 637.6 L642.0 640.0 L605.5 640.3 Q601.5 640.3 600.5 638.8Z" fill="#1c1c1c"/><path d="M600.5 646.8 Q601.5 645.4 605.5 645.4 L642.0 645.6 L642.0 648.0 L605.5 648.3 Q601.5 648.3 600.5 646.8Z" fill="#1c1c1c"/><rect x="638.8" y="664.0" width="16.4" height="14.5" rx="2.2" fill="#141414"/><rect x="640.0" y="664.8" width="13.4" height="2.4" rx="1.2" fill="#f4f2ec"/><rect x="640.6" y="669.7" width="12.2" height="5.8" rx="1.2" fill="#fbf9f6"/><path d="M600.5 668.6 Q601.5 667.1 605.5 667.1 L642.0 667.4 L642.0 669.8 L605.5 670.1 Q601.5 670.1 600.5 668.6Z" fill="#1c1c1c"/><path d="M600.5 676.6 Q601.5 675.1 605.5 675.1 L642.0 675.4 L642.0 677.8 L605.5 678.1 Q601.5 678.1 600.5 676.6Z" fill="#1c1c1c"/><rect x="638.8" y="693.8" width="16.4" height="14.5" rx="2.2" fill="#141414"/><rect x="640.0" y="694.6" width="13.4" height="2.4" rx="1.2" fill="#f4f2ec"/><rect x="640.6" y="699.5" width="12.2" height="5.8" rx="1.2" fill="#fbf9f6"/><path d="M600.5 698.4 Q601.5 696.9 605.5 696.9 L642.0 697.2 L642.0 699.6 L605.5 699.8 Q601.5 699.8 600.5 698.4Z" fill="#1c1c1c"/><path d="M600.5 706.4 Q601.5 704.9 605.5 704.9 L642.0 705.2 L642.0 707.6 L605.5 707.8 Q601.5 707.8 600.5 706.4Z" fill="#1c1c1c"/><rect x="638.8" y="723.5" width="16.4" height="14.5" rx="2.2" fill="#141414"/><rect x="640.0" y="724.3" width="13.4" height="2.4" rx="1.2" fill="#f4f2ec"/><rect x="640.6" y="729.2" width="12.2" height="5.8" rx="1.2" fill="#fbf9f6"/><path d="M600.5 728.1 Q601.5 726.7 605.5 726.7 L642.0 726.9 L642.0 729.3 L605.5 729.6 Q601.5 729.6 600.5 728.1Z" fill="#1c1c1c"/><path d="M600.5 736.1 Q601.5 734.7 605.5 734.7 L642.0 734.9 L642.0 737.3 L605.5 737.6 Q601.5 737.6 600.5 736.1Z" fill="#1c1c1c"/><rect x="638.8" y="753.3" width="16.4" height="14.5" rx="2.2" fill="#141414"/><rect x="640.0" y="754.1" width="13.4" height="2.4" rx="1.2" fill="#f4f2ec"/><rect x="640.6" y="759.0" width="12.2" height="5.8" rx="1.2" fill="#fbf9f6"/><path d="M600.5 757.9 Q601.5 756.5 605.5 756.5 L642.0 756.7 L642.0 759.1 L605.5 759.4 Q601.5 759.4 600.5 757.9Z" fill="#1c1c1c"/><path d="M600.5 765.9 Q601.5 764.5 605.5 764.5 L642.0 764.7 L642.0 767.1 L605.5 767.4 Q601.5 767.4 600.5 765.9Z" fill="#1c1c1c"/><rect x="638.8" y="783.1" width="16.4" height="14.5" rx="2.2" fill="#141414"/><rect x="640.0" y="783.9" width="13.4" height="2.4" rx="1.2" fill="#f4f2ec"/><rect x="640.6" y="788.8" width="12.2" height="5.8" rx="1.2" fill="#fbf9f6"/><path d="M600.5 787.7 Q601.5 786.2 605.5 786.2 L642.0 786.5 L642.0 788.9 L605.5 789.1 Q601.5 789.1 600.5 787.7Z" fill="#1c1c1c"/><path d="M600.5 795.7 Q601.5 794.2 605.5 794.2 L642.0 794.5 L642.0 796.9 L605.5 797.1 Q601.5 797.1 600.5 795.7Z" fill="#1c1c1c"/><rect x="638.8" y="812.9" width="16.4" height="14.5" rx="2.2" fill="#141414"/><rect x="640.0" y="813.7" width="13.4" height="2.4" rx="1.2" fill="#f4f2ec"/><rect x="640.6" y="818.6" width="12.2" height="5.8" rx="1.2" fill="#fbf9f6"/><path d="M600.5 817.5 Q601.5 816.0 605.5 816.0 L642.0 816.2 L642.0 818.7 L605.5 818.9 Q601.5 818.9 600.5 817.5Z" fill="#1c1c1c"/><path d="M600.5 825.5 Q601.5 824.0 605.5 824.0 L642.0 824.2 L642.0 826.7 L605.5 826.9 Q601.5 826.9 600.5 825.5Z" fill="#1c1c1c"/><rect x="638.8" y="842.6" width="16.4" height="14.5" rx="2.2" fill="#141414"/><rect x="640.0" y="843.4" width="13.4" height="2.4" rx="1.2" fill="#f4f2ec"/><rect x="640.6" y="848.3" width="12.2" height="5.8" rx="1.2" fill="#fbf9f6"/><path d="M600.5 847.2 Q601.5 845.8 605.5 845.8 L642.0 846.0 L642.0 848.4 L605.5 848.7 Q601.5 848.7 600.5 847.2Z" fill="#1c1c1c"/><path d="M600.5 855.2 Q601.5 853.8 605.5 853.8 L642.0 854.0 L642.0 856.4 L605.5 856.7 Q601.5 856.7 600.5 855.2Z" fill="#1c1c1c"/><rect x="638.8" y="872.4" width="16.4" height="14.5" rx="2.2" fill="#141414"/><rect x="640.0" y="873.2" width="13.4" height="2.4" rx="1.2" fill="#f4f2ec"/><rect x="640.6" y="878.1" width="12.2" height="5.8" rx="1.2" fill="#fbf9f6"/><path d="M600.5 877.0 Q601.5 875.5 605.5 875.5 L642.0 875.8 L642.0 878.2 L605.5 878.4 Q601.5 878.4 600.5 877.0Z" fill="#1c1c1c"/><path d="M600.5 885.0 Q601.5 883.5 605.5 883.5 L642.0 883.8 L642.0 886.2 L605.5 886.4 Q601.5 886.4 600.5 885.0Z" fill="#1c1c1c"/><rect x="638.8" y="902.2" width="16.4" height="14.5" rx="2.2" fill="#141414"/><rect x="640.0" y="903.0" width="13.4" height="2.4" rx="1.2" fill="#f4f2ec"/><rect x="640.6" y="907.9" width="12.2" height="5.8" rx="1.2" fill="#fbf9f6"/><path d="M600.5 906.8 Q601.5 905.3 605.5 905.3 L642.0 905.6 L642.0 908.0 L605.5 908.2 Q601.5 908.2 600.5 906.8Z" fill="#1c1c1c"/><path d="M600.5 914.8 Q601.5 913.3 605.5 913.3 L642.0 913.6 L642.0 916.0 L605.5 916.2 Q601.5 916.2 600.5 914.8Z" fill="#1c1c1c"/><rect x="638.8" y="931.9" width="16.4" height="14.5" rx="2.2" fill="#141414"/><rect x="640.0" y="932.7" width="13.4" height="2.4" rx="1.2" fill="#f4f2ec"/><rect x="640.6" y="937.6" width="12.2" height="5.8" rx="1.2" fill="#fbf9f6"/><path d="M600.5 936.5 Q601.5 935.1 605.5 935.1 L642.0 935.3 L642.0 937.7 L605.5 938.0 Q601.5 938.0 600.5 936.5Z" fill="#1c1c1c"/><path d="M600.5 944.5 Q601.5 943.1 605.5 943.1 L642.0 943.3 L642.0 945.7 L605.5 946.0 Q601.5 946.0 600.5 944.5Z" fill="#1c1c1c"/><rect x="638.8" y="961.7" width="16.4" height="14.5" rx="2.2" fill="#141414"/><rect x="640.0" y="962.5" width="13.4" height="2.4" rx="1.2" fill="#f4f2ec"/><rect x="640.6" y="967.4" width="12.2" height="5.8" rx="1.2" fill="#fbf9f6"/><path d="M600.5 966.3 Q601.5 964.8 605.5 964.8 L642.0 965.1 L642.0 967.5 L605.5 967.8 Q601.5 967.8 600.5 966.3Z" fill="#1c1c1c"/><path d="M600.5 974.3 Q601.5 972.8 605.5 972.8 L642.0 973.1 L642.0 975.5 L605.5 975.8 Q601.5 975.8 600.5 974.3Z" fill="#1c1c1c"/><rect x="638.8" y="991.5" width="16.4" height="14.5" rx="2.2" fill="#141414"/><rect x="640.0" y="992.3" width="13.4" height="2.4" rx="1.2" fill="#f4f2ec"/><rect x="640.6" y="997.2" width="12.2" height="5.8" rx="1.2" fill="#fbf9f6"/><path d="M600.5 996.1 Q601.5 994.6 605.5 994.6 L642.0 994.9 L642.0 997.3 L605.5 997.5 Q601.5 997.5 600.5 996.1Z" fill="#1c1c1c"/><path d="M600.5 1004.1 Q601.5 1002.6 605.5 1002.6 L642.0 1002.9 L642.0 1005.3 L605.5 1005.5 Q601.5 1005.5 600.5 1004.1Z" fill="#1c1c1c"/><rect x="638.8" y="1021.2" width="16.4" height="14.5" rx="2.2" fill="#141414"/><rect x="640.0" y="1022.0" width="13.4" height="2.4" rx="1.2" fill="#f4f2ec"/><rect x="640.6" y="1026.9" width="12.2" height="5.8" rx="1.2" fill="#fbf9f6"/><path d="M600.5 1025.8 Q601.5 1024.4 605.5 1024.4 L642.0 1024.6 L642.0 1027.0 L605.5 1027.3 Q601.5 1027.3 600.5 1025.8Z" fill="#1c1c1c"/><path d="M600.5 1033.8 Q601.5 1032.4 605.5 1032.4 L642.0 1032.6 L642.0 1035.0 L605.5 1035.3 Q601.5 1035.3 600.5 1033.8Z" fill="#1c1c1c"/><rect x="638.8" y="1051.0" width="16.4" height="14.5" rx="2.2" fill="#141414"/><rect x="640.0" y="1051.8" width="13.4" height="2.4" rx="1.2" fill="#f4f2ec"/><rect x="640.6" y="1056.7" width="12.2" height="5.8" rx="1.2" fill="#fbf9f6"/><path d="M600.5 1055.6 Q601.5 1054.2 605.5 1054.2 L642.0 1054.4 L642.0 1056.8 L605.5 1057.1 Q601.5 1057.1 600.5 1055.6Z" fill="#1c1c1c"/><path d="M600.5 1063.6 Q601.5 1062.2 605.5 1062.2 L642.0 1062.4 L642.0 1064.8 L605.5 1065.1 Q601.5 1065.1 600.5 1063.6Z" fill="#1c1c1c"/><rect x="638.8" y="1080.8" width="16.4" height="14.5" rx="2.2" fill="#141414"/><rect x="640.0" y="1081.6" width="13.4" height="2.4" rx="1.2" fill="#f4f2ec"/><rect x="640.6" y="1086.5" width="12.2" height="5.8" rx="1.2" fill="#fbf9f6"/><path d="M600.5 1085.4 Q601.5 1083.9 605.5 1083.9 L642.0 1084.2 L642.0 1086.6 L605.5 1086.8 Q601.5 1086.8 600.5 1085.4Z" fill="#1c1c1c"/><path d="M600.5 1093.4 Q601.5 1091.9 605.5 1091.9 L642.0 1092.2 L642.0 1094.6 L605.5 1094.8 Q601.5 1094.8 600.5 1093.4Z" fill="#1c1c1c"/><rect x="638.8" y="1110.6" width="16.4" height="14.5" rx="2.2" fill="#141414"/><rect x="640.0" y="1111.4" width="13.4" height="2.4" rx="1.2" fill="#f4f2ec"/><rect x="640.6" y="1116.2" width="12.2" height="5.8" rx="1.2" fill="#fbf9f6"/><path d="M600.5 1115.2 Q601.5 1113.7 605.5 1113.7 L642.0 1114.0 L642.0 1116.4 L605.5 1116.6 Q601.5 1116.6 600.5 1115.2Z" fill="#1c1c1c"/><path d="M600.5 1123.2 Q601.5 1121.7 605.5 1121.7 L642.0 1122.0 L642.0 1124.4 L605.5 1124.6 Q601.5 1124.6 600.5 1123.2Z" fill="#1c1c1c"/><rect x="638.8" y="1140.3" width="16.4" height="14.5" rx="2.2" fill="#141414"/><rect x="640.0" y="1141.1" width="13.4" height="2.4" rx="1.2" fill="#f4f2ec"/><rect x="640.6" y="1146.0" width="12.2" height="5.8" rx="1.2" fill="#fbf9f6"/><path d="M600.5 1144.9 Q601.5 1143.5 605.5 1143.5 L642.0 1143.7 L642.0 1146.1 L605.5 1146.4 Q601.5 1146.4 600.5 1144.9Z" fill="#1c1c1c"/><path d="M600.5 1152.9 Q601.5 1151.5 605.5 1151.5 L642.0 1151.7 L642.0 1154.1 L605.5 1154.4 Q601.5 1154.4 600.5 1152.9Z" fill="#1c1c1c"/><rect x="638.8" y="1170.1" width="16.4" height="14.5" rx="2.2" fill="#141414"/><rect x="640.0" y="1170.9" width="13.4" height="2.4" rx="1.2" fill="#f4f2ec"/><rect x="640.6" y="1175.8" width="12.2" height="5.8" rx="1.2" fill="#fbf9f6"/><path d="M600.5 1174.7 Q601.5 1173.2 605.5 1173.2 L642.0 1173.5 L642.0 1175.9 L605.5 1176.1 Q601.5 1176.1 600.5 1174.7Z" fill="#1c1c1c"/><path d="M600.5 1182.7 Q601.5 1181.2 605.5 1181.2 L642.0 1181.5 L642.0 1183.9 L605.5 1184.1 Q601.5 1184.1 600.5 1182.7Z" fill="#1c1c1c"/><rect x="638.8" y="1199.9" width="16.4" height="14.5" rx="2.2" fill="#141414"/><rect x="640.0" y="1200.7" width="13.4" height="2.4" rx="1.2" fill="#f4f2ec"/><rect x="640.6" y="1205.6" width="12.2" height="5.8" rx="1.2" fill="#fbf9f6"/><path d="M600.5 1204.5 Q601.5 1203.0 605.5 1203.0 L642.0 1203.3 L642.0 1205.7 L605.5 1205.9 Q601.5 1205.9 600.5 1204.5Z" fill="#1c1c1c"/><path d="M600.5 1212.5 Q601.5 1211.0 605.5 1211.0 L642.0 1211.3 L642.0 1213.7 L605.5 1213.9 Q601.5 1213.9 600.5 1212.5Z" fill="#1c1c1c"/><rect x="638.8" y="1229.6" width="16.4" height="14.5" rx="2.2" fill="#141414"/><rect x="640.0" y="1230.4" width="13.4" height="2.4" rx="1.2" fill="#f4f2ec"/><rect x="640.6" y="1235.3" width="12.2" height="5.8" rx="1.2" fill="#fbf9f6"/><path d="M600.5 1234.2 Q601.5 1232.8 605.5 1232.8 L642.0 1233.0 L642.0 1235.4 L605.5 1235.7 Q601.5 1235.7 600.5 1234.2Z" fill="#1c1c1c"/><path d="M600.5 1242.2 Q601.5 1240.8 605.5 1240.8 L642.0 1241.0 L642.0 1243.4 L605.5 1243.7 Q601.5 1243.7 600.5 1242.2Z" fill="#1c1c1c"/><rect x="638.8" y="1259.4" width="16.4" height="14.5" rx="2.2" fill="#141414"/><rect x="640.0" y="1260.2" width="13.4" height="2.4" rx="1.2" fill="#f4f2ec"/><rect x="640.6" y="1265.1" width="12.2" height="5.8" rx="1.2" fill="#fbf9f6"/><path d="M600.5 1264.0 Q601.5 1262.5 605.5 1262.5 L642.0 1262.8 L642.0 1265.2 L605.5 1265.5 Q601.5 1265.5 600.5 1264.0Z" fill="#1c1c1c"/><path d="M600.5 1272.0 Q601.5 1270.5 605.5 1270.5 L642.0 1270.8 L642.0 1273.2 L605.5 1273.5 Q601.5 1273.5 600.5 1272.0Z" fill="#1c1c1c"/><rect x="638.8" y="1289.2" width="16.4" height="14.5" rx="2.2" fill="#141414"/><rect x="640.0" y="1290.0" width="13.4" height="2.4" rx="1.2" fill="#f4f2ec"/><rect x="640.6" y="1294.9" width="12.2" height="5.8" rx="1.2" fill="#fbf9f6"/><path d="M600.5 1293.8 Q601.5 1292.3 605.5 1292.3 L642.0 1292.6 L642.0 1295.0 L605.5 1295.2 Q601.5 1295.2 600.5 1293.8Z" fill="#1c1c1c"/><path d="M600.5 1301.8 Q601.5 1300.3 605.5 1300.3 L642.0 1300.6 L642.0 1303.0 L605.5 1303.2 Q601.5 1303.2 600.5 1301.8Z" fill="#1c1c1c"/><rect x="638.8" y="1318.9" width="16.4" height="14.5" rx="2.2" fill="#141414"/><rect x="640.0" y="1319.7" width="13.4" height="2.4" rx="1.2" fill="#f4f2ec"/><rect x="640.6" y="1324.6" width="12.2" height="5.8" rx="1.2" fill="#fbf9f6"/><path d="M600.5 1323.5 Q601.5 1322.1 605.5 1322.1 L642.0 1322.3 L642.0 1324.7 L605.5 1325.0 Q601.5 1325.0 600.5 1323.5Z" fill="#1c1c1c"/><path d="M600.5 1331.5 Q601.5 1330.1 605.5 1330.1 L642.0 1330.3 L642.0 1332.7 L605.5 1333.0 Q601.5 1333.0 600.5 1331.5Z" fill="#1c1c1c"/><path d="M749.3 618.7 L1275 618.7 Q1287 618.7 1287 630.7 L1287 1354.7 Q1287 1366.7 1275 1366.7 L749.3 1366.7 Q744.3 1366.7 744.3 1361.7 L744.3 623.7 Q744.3 618.7 749.3 618.7Z" fill="#abbd77"/><path d="M744.3 623.7 Q744.3 618.7 749.3 618.7 L755.5 618.7 L755.5 1366.7 L749.3 1366.7 Q744.3 1366.7 744.3 1361.7Z" fill="url(#gshadeGreen)"/><path d="M750 628.6 L1269 628.6 Q1277.8 628.6 1277.8 637.4 L1277.8 1349.2 Q1277.8 1358 1269 1358 L748 1358" fill="none" stroke="#eef5c8" stroke-opacity="1.0" stroke-width="1.5" stroke-dasharray="7.5 4.5" stroke-dashoffset="-2.25"/><path d="M750 628.6 L1269 628.6 Q1277.8 628.6 1277.8 637.4 L1277.8 1349.2 Q1277.8 1358 1269 1358 L748 1358" fill="none" stroke="#1c2410" stroke-width="2.0" stroke-dasharray="3.5 8.5" stroke-dashoffset="1.75" stroke-linecap="butt"/><path d="M936.7 720.0 Q936.7 710.0 948.7 710.0" fill="none" stroke="#6b6e3d" stroke-width="2.1" stroke-linecap="round"/><path d="M1090.0 710.0 Q1102.0 710.0 1102.0 720.0" fill="none" stroke="#6b6e3d" stroke-width="2.1" stroke-linecap="round"/><path d="M936.7 746.0 Q936.7 757.3 948.7 757.3 L1090.0 757.3 Q1102.0 757.3 1102.0 746.0" fill="none" stroke="#6b6e3d" stroke-width="2.1" stroke-linecap="round"/><text x="949" y="748" font-size="37.5" textLength="140.5" lengthAdjust="spacingAndGlyphs" fill="#6b6e3d">2025-26</text><g transform="translate(1056.70 689.30) scale(0.6838 0.6861)"><path d="M0 35.3 C8 34 12 32 15 28.5 C22 19 33 7 48 2.5 C56 0.3 66 0 74 2 L66.6 4.7 L60 8.3 L53.4 11.3 L57.6 14.3 L47.4 17.9 L53 20 L42.6 23.9 L47 25.5 L37.8 28.1 C32 31 24 35 13 36 C8 36.3 4 36 0 35.3Z" fill="#6b6e3d"/><path d="M14 33 C25 22 40 9 66 3" fill="none" stroke="#a9b97a" stroke-width="1.46"/></g><path d="M1193.5 617.5 Q1193.5 616 1196.5 616 L1221 616 Q1224 616 1224 617.5 L1224 1366.0 Q1224 1367.5 1221 1367.5 L1196.5 1367.5 Q1193.5 1367.5 1193.5 1366.0Z" fill="#5f7848"/><line x1="1194.52" y1="616.5" x2="1194.52" y2="1367.0" stroke="#98b286" stroke-width="1.1" opacity="0.8"/><line x1="1196.14" y1="616.5" x2="1196.14" y2="1367.0" stroke="#3f5634" stroke-width="0.9" opacity="0.35"/><line x1="1197.91" y1="616.5" x2="1197.91" y2="1367.0" stroke="#98b286" stroke-width="1.1" opacity="0.8"/><line x1="1199.53" y1="616.5" x2="1199.53" y2="1367.0" stroke="#3f5634" stroke-width="0.9" opacity="0.35"/><line x1="1201.29" y1="616.5" x2="1201.29" y2="1367.0" stroke="#98b286" stroke-width="1.1" opacity="0.8"/><line x1="1202.92" y1="616.5" x2="1202.92" y2="1367.0" stroke="#3f5634" stroke-width="0.9" opacity="0.35"/><line x1="1204.68" y1="616.5" x2="1204.68" y2="1367.0" stroke="#98b286" stroke-width="1.1" opacity="0.8"/><line x1="1206.31" y1="616.5" x2="1206.31" y2="1367.0" stroke="#3f5634" stroke-width="0.9" opacity="0.35"/><line x1="1208.07" y1="616.5" x2="1208.07" y2="1367.0" stroke="#98b286" stroke-width="1.1" opacity="0.8"/><line x1="1209.70" y1="616.5" x2="1209.70" y2="1367.0" stroke="#3f5634" stroke-width="0.9" opacity="0.35"/><line x1="1211.46" y1="616.5" x2="1211.46" y2="1367.0" stroke="#98b286" stroke-width="1.1" opacity="0.8"/><line x1="1213.09" y1="616.5" x2="1213.09" y2="1367.0" stroke="#3f5634" stroke-width="0.9" opacity="0.35"/><line x1="1214.85" y1="616.5" x2="1214.85" y2="1367.0" stroke="#98b286" stroke-width="1.1" opacity="0.8"/><line x1="1216.48" y1="616.5" x2="1216.48" y2="1367.0" stroke="#3f5634" stroke-width="0.9" opacity="0.35"/><line x1="1218.24" y1="616.5" x2="1218.24" y2="1367.0" stroke="#98b286" stroke-width="1.1" opacity="0.8"/><line x1="1219.87" y1="616.5" x2="1219.87" y2="1367.0" stroke="#3f5634" stroke-width="0.9" opacity="0.35"/><line x1="1221.63" y1="616.5" x2="1221.63" y2="1367.0" stroke="#98b286" stroke-width="1.1" opacity="0.8"/><line x1="1223.25" y1="616.5" x2="1223.25" y2="1367.0" stroke="#3f5634" stroke-width="0.9" opacity="0.35"/><line x1="1194.3" y1="616" x2="1194.3" y2="1367.5" stroke="#000" stroke-opacity="0.25" stroke-width="1.6"/><line x1="1223.2" y1="616" x2="1223.2" y2="1367.5" stroke="#000" stroke-opacity="0.25" stroke-width="1.6"/><path d="M1287.5 963.4 L1319.5 963.4 Q1322.5 963.4 1322.5 966.4 L1322.5 1016 Q1322.5 1019 1319.5 1019 L1287.5 1019 Q1287.5 1019 1287.5 1019 L1287.5 963.4 Q1287.5 963.4 1287.5 963.4Z" fill="#56623a"/><line x1="1287.5" y1="964.33" x2="1321.5" y2="964.33" stroke="#8e9b6c" stroke-width="1.1" opacity="0.85"/><line x1="1287.5" y1="965.87" x2="1321.5" y2="965.87" stroke="#28321a" stroke-width="1.0" opacity="0.8"/><line x1="1287.5" y1="967.42" x2="1321.5" y2="967.42" stroke="#8e9b6c" stroke-width="1.1" opacity="0.85"/><line x1="1287.5" y1="968.96" x2="1321.5" y2="968.96" stroke="#28321a" stroke-width="1.0" opacity="0.8"/><line x1="1287.5" y1="970.50" x2="1321.5" y2="970.50" stroke="#8e9b6c" stroke-width="1.1" opacity="0.85"/><line x1="1287.5" y1="972.05" x2="1321.5" y2="972.05" stroke="#28321a" stroke-width="1.0" opacity="0.8"/><line x1="1287.5" y1="973.59" x2="1321.5" y2="973.59" stroke="#8e9b6c" stroke-width="1.1" opacity="0.85"/><line x1="1287.5" y1="975.14" x2="1321.5" y2="975.14" stroke="#28321a" stroke-width="1.0" opacity="0.8"/><line x1="1287.5" y1="976.68" x2="1321.5" y2="976.68" stroke="#8e9b6c" stroke-width="1.1" opacity="0.85"/><line x1="1287.5" y1="978.23" x2="1321.5" y2="978.23" stroke="#28321a" stroke-width="1.0" opacity="0.8"/><line x1="1287.5" y1="979.77" x2="1321.5" y2="979.77" stroke="#8e9b6c" stroke-width="1.1" opacity="0.85"/><line x1="1287.5" y1="981.32" x2="1321.5" y2="981.32" stroke="#28321a" stroke-width="1.0" opacity="0.8"/><line x1="1287.5" y1="982.86" x2="1321.5" y2="982.86" stroke="#8e9b6c" stroke-width="1.1" opacity="0.85"/><line x1="1287.5" y1="984.40" x2="1321.5" y2="984.40" stroke="#28321a" stroke-width="1.0" opacity="0.8"/><line x1="1287.5" y1="985.95" x2="1321.5" y2="985.95" stroke="#8e9b6c" stroke-width="1.1" opacity="0.85"/><line x1="1287.5" y1="987.49" x2="1321.5" y2="987.49" stroke="#28321a" stroke-width="1.0" opacity="0.8"/><line x1="1287.5" y1="989.04" x2="1321.5" y2="989.04" stroke="#8e9b6c" stroke-width="1.1" opacity="0.85"/><line x1="1287.5" y1="990.58" x2="1321.5" y2="990.58" stroke="#28321a" stroke-width="1.0" opacity="0.8"/><line x1="1287.5" y1="992.13" x2="1321.5" y2="992.13" stroke="#8e9b6c" stroke-width="1.1" opacity="0.85"/><line x1="1287.5" y1="993.67" x2="1321.5" y2="993.67" stroke="#28321a" stroke-width="1.0" opacity="0.8"/><line x1="1287.5" y1="995.22" x2="1321.5" y2="995.22" stroke="#8e9b6c" stroke-width="1.1" opacity="0.85"/><line x1="1287.5" y1="996.76" x2="1321.5" y2="996.76" stroke="#28321a" stroke-width="1.0" opacity="0.8"/><line x1="1287.5" y1="998.30" x2="1321.5" y2="998.30" stroke="#8e9b6c" stroke-width="1.1" opacity="0.85"/><line x1="1287.5" y1="999.85" x2="1321.5" y2="999.85" stroke="#28321a" stroke-width="1.0" opacity="0.8"/><line x1="1287.5" y1="1001.39" x2="1321.5" y2="1001.39" stroke="#8e9b6c" stroke-width="1.1" opacity="0.85"/><line x1="1287.5" y1="1002.94" x2="1321.5" y2="1002.94" stroke="#28321a" stroke-width="1.0" opacity="0.8"/><line x1="1287.5" y1="1004.48" x2="1321.5" y2="1004.48" stroke="#8e9b6c" stroke-width="1.1" opacity="0.85"/><line x1="1287.5" y1="1006.03" x2="1321.5" y2="1006.03" stroke="#28321a" stroke-width="1.0" opacity="0.8"/><line x1="1287.5" y1="1007.57" x2="1321.5" y2="1007.57" stroke="#8e9b6c" stroke-width="1.1" opacity="0.85"/><line x1="1287.5" y1="1009.12" x2="1321.5" y2="1009.12" stroke="#28321a" stroke-width="1.0" opacity="0.8"/><line x1="1287.5" y1="1010.66" x2="1321.5" y2="1010.66" stroke="#8e9b6c" stroke-width="1.1" opacity="0.85"/><line x1="1287.5" y1="1012.20" x2="1321.5" y2="1012.20" stroke="#28321a" stroke-width="1.0" opacity="0.8"/><line x1="1287.5" y1="1013.75" x2="1321.5" y2="1013.75" stroke="#8e9b6c" stroke-width="1.1" opacity="0.85"/><line x1="1287.5" y1="1015.29" x2="1321.5" y2="1015.29" stroke="#28321a" stroke-width="1.0" opacity="0.8"/><line x1="1287.5" y1="1016.84" x2="1321.5" y2="1016.84" stroke="#8e9b6c" stroke-width="1.1" opacity="0.85"/><line x1="1287.5" y1="1018.38" x2="1321.5" y2="1018.38" stroke="#28321a" stroke-width="1.0" opacity="0.8"/><path d="M1287.5 963.4 L1319.5 963.4 Q1322.5 963.4 1322.5 966.4 L1322.5 1016 Q1322.5 1019 1319.5 1019 L1287.5 1019 Q1287.5 1019 1287.5 1019 L1287.5 963.4 Q1287.5 963.4 1287.5 963.4Z" fill="none" stroke="#8e9b6c" stroke-opacity="0.5" stroke-width="1"/><rect x="752.8" y="646.6" width="15.9" height="14.2" rx="2.2" fill="#141414"/><rect x="754.0" y="647.4" width="12.9" height="2.4" rx="1.2" fill="#f4f2ec"/><rect x="754.6" y="652.3" width="11.7" height="5.5" rx="1.2" fill="#fbf9f6"/><path d="M718.4 651.2 Q719.4 649.8 723.4 649.8 L756.0 650.0 L756.0 652.4 L723.4 652.7 Q719.4 652.7 718.4 651.2Z" fill="#1c1c1c"/><path d="M718.4 658.9 Q719.4 657.5 723.4 657.5 L756.0 657.7 L756.0 660.1 L723.4 660.4 Q719.4 660.4 718.4 658.9Z" fill="#1c1c1c"/><rect x="752.8" y="676.1" width="15.9" height="14.2" rx="2.2" fill="#141414"/><rect x="754.0" y="676.9" width="12.9" height="2.4" rx="1.2" fill="#f4f2ec"/><rect x="754.6" y="681.8" width="11.7" height="5.5" rx="1.2" fill="#fbf9f6"/><path d="M718.4 680.7 Q719.4 679.2 723.4 679.2 L756.0 679.5 L756.0 681.9 L723.4 682.1 Q719.4 682.1 718.4 680.7Z" fill="#1c1c1c"/><path d="M718.4 688.4 Q719.4 686.9 723.4 686.9 L756.0 687.2 L756.0 689.6 L723.4 689.8 Q719.4 689.8 718.4 688.4Z" fill="#1c1c1c"/><rect x="752.8" y="705.5" width="15.9" height="14.2" rx="2.2" fill="#141414"/><rect x="754.0" y="706.3" width="12.9" height="2.4" rx="1.2" fill="#f4f2ec"/><rect x="754.6" y="711.2" width="11.7" height="5.5" rx="1.2" fill="#fbf9f6"/><path d="M718.4 710.1 Q719.4 708.7 723.4 708.7 L756.0 708.9 L756.0 711.3 L723.4 711.6 Q719.4 711.6 718.4 710.1Z" fill="#1c1c1c"/><path d="M718.4 717.8 Q719.4 716.4 723.4 716.4 L756.0 716.6 L756.0 719.0 L723.4 719.3 Q719.4 719.3 718.4 717.8Z" fill="#1c1c1c"/><rect x="752.8" y="735.0" width="15.9" height="14.2" rx="2.2" fill="#141414"/><rect x="754.0" y="735.8" width="12.9" height="2.4" rx="1.2" fill="#f4f2ec"/><rect x="754.6" y="740.7" width="11.7" height="5.5" rx="1.2" fill="#fbf9f6"/><path d="M718.4 739.6 Q719.4 738.2 723.4 738.2 L756.0 738.4 L756.0 740.8 L723.4 741.1 Q719.4 741.1 718.4 739.6Z" fill="#1c1c1c"/><path d="M718.4 747.3 Q719.4 745.9 723.4 745.9 L756.0 746.1 L756.0 748.5 L723.4 748.8 Q719.4 748.8 718.4 747.3Z" fill="#1c1c1c"/><rect x="752.8" y="764.5" width="15.9" height="14.2" rx="2.2" fill="#141414"/><rect x="754.0" y="765.3" width="12.9" height="2.4" rx="1.2" fill="#f4f2ec"/><rect x="754.6" y="770.2" width="11.7" height="5.5" rx="1.2" fill="#fbf9f6"/><path d="M718.4 769.1 Q719.4 767.6 723.4 767.6 L756.0 767.9 L756.0 770.3 L723.4 770.5 Q719.4 770.5 718.4 769.1Z" fill="#1c1c1c"/><path d="M718.4 776.8 Q719.4 775.3 723.4 775.3 L756.0 775.6 L756.0 778.0 L723.4 778.2 Q719.4 778.2 718.4 776.8Z" fill="#1c1c1c"/><rect x="752.8" y="794.0" width="15.9" height="14.2" rx="2.2" fill="#141414"/><rect x="754.0" y="794.8" width="12.9" height="2.4" rx="1.2" fill="#f4f2ec"/><rect x="754.6" y="799.7" width="11.7" height="5.5" rx="1.2" fill="#fbf9f6"/><path d="M718.4 798.6 Q719.4 797.1 723.4 797.1 L756.0 797.4 L756.0 799.8 L723.4 800.0 Q719.4 800.0 718.4 798.6Z" fill="#1c1c1c"/><path d="M718.4 806.3 Q719.4 804.8 723.4 804.8 L756.0 805.1 L756.0 807.5 L723.4 807.7 Q719.4 807.7 718.4 806.3Z" fill="#1c1c1c"/><rect x="752.8" y="823.4" width="15.9" height="14.2" rx="2.2" fill="#141414"/><rect x="754.0" y="824.2" width="12.9" height="2.4" rx="1.2" fill="#f4f2ec"/><rect x="754.6" y="829.1" width="11.7" height="5.5" rx="1.2" fill="#fbf9f6"/><path d="M718.4 828.0 Q719.4 826.6 723.4 826.6 L756.0 826.8 L756.0 829.2 L723.4 829.5 Q719.4 829.5 718.4 828.0Z" fill="#1c1c1c"/><path d="M718.4 835.7 Q719.4 834.3 723.4 834.3 L756.0 834.5 L756.0 836.9 L723.4 837.2 Q719.4 837.2 718.4 835.7Z" fill="#1c1c1c"/><rect x="752.8" y="852.9" width="15.9" height="14.2" rx="2.2" fill="#141414"/><rect x="754.0" y="853.7" width="12.9" height="2.4" rx="1.2" fill="#f4f2ec"/><rect x="754.6" y="858.6" width="11.7" height="5.5" rx="1.2" fill="#fbf9f6"/><path d="M718.4 857.5 Q719.4 856.0 723.4 856.0 L756.0 856.3 L756.0 858.7 L723.4 858.9 Q719.4 858.9 718.4 857.5Z" fill="#1c1c1c"/><path d="M718.4 865.2 Q719.4 863.7 723.4 863.7 L756.0 864.0 L756.0 866.4 L723.4 866.6 Q719.4 866.6 718.4 865.2Z" fill="#1c1c1c"/><rect x="752.8" y="882.4" width="15.9" height="14.2" rx="2.2" fill="#141414"/><rect x="754.0" y="883.2" width="12.9" height="2.4" rx="1.2" fill="#f4f2ec"/><rect x="754.6" y="888.1" width="11.7" height="5.5" rx="1.2" fill="#fbf9f6"/><path d="M718.4 887.0 Q719.4 885.5 723.4 885.5 L756.0 885.8 L756.0 888.2 L723.4 888.4 Q719.4 888.4 718.4 887.0Z" fill="#1c1c1c"/><path d="M718.4 894.7 Q719.4 893.2 723.4 893.2 L756.0 893.5 L756.0 895.9 L723.4 896.1 Q719.4 896.1 718.4 894.7Z" fill="#1c1c1c"/><rect x="752.8" y="911.8" width="15.9" height="14.2" rx="2.2" fill="#141414"/><rect x="754.0" y="912.6" width="12.9" height="2.4" rx="1.2" fill="#f4f2ec"/><rect x="754.6" y="917.5" width="11.7" height="5.5" rx="1.2" fill="#fbf9f6"/><path d="M718.4 916.4 Q719.4 915.0 723.4 915.0 L756.0 915.2 L756.0 917.6 L723.4 917.9 Q719.4 917.9 718.4 916.4Z" fill="#1c1c1c"/><path d="M718.4 924.1 Q719.4 922.7 723.4 922.7 L756.0 922.9 L756.0 925.3 L723.4 925.6 Q719.4 925.6 718.4 924.1Z" fill="#1c1c1c"/><rect x="752.8" y="941.3" width="15.9" height="14.2" rx="2.2" fill="#141414"/><rect x="754.0" y="942.1" width="12.9" height="2.4" rx="1.2" fill="#f4f2ec"/><rect x="754.6" y="947.0" width="11.7" height="5.5" rx="1.2" fill="#fbf9f6"/><path d="M718.4 945.9 Q719.4 944.5 723.4 944.5 L756.0 944.7 L756.0 947.1 L723.4 947.4 Q719.4 947.4 718.4 945.9Z" fill="#1c1c1c"/><path d="M718.4 953.6 Q719.4 952.2 723.4 952.2 L756.0 952.4 L756.0 954.8 L723.4 955.1 Q719.4 955.1 718.4 953.6Z" fill="#1c1c1c"/><rect x="752.8" y="970.8" width="15.9" height="14.2" rx="2.2" fill="#141414"/><rect x="754.0" y="971.6" width="12.9" height="2.4" rx="1.2" fill="#f4f2ec"/><rect x="754.6" y="976.5" width="11.7" height="5.5" rx="1.2" fill="#fbf9f6"/><path d="M718.4 975.4 Q719.4 973.9 723.4 973.9 L756.0 974.2 L756.0 976.6 L723.4 976.8 Q719.4 976.8 718.4 975.4Z" fill="#1c1c1c"/><path d="M718.4 983.1 Q719.4 981.6 723.4 981.6 L756.0 981.9 L756.0 984.3 L723.4 984.5 Q719.4 984.5 718.4 983.1Z" fill="#1c1c1c"/><rect x="752.8" y="1000.2" width="15.9" height="14.2" rx="2.2" fill="#141414"/><rect x="754.0" y="1001.0" width="12.9" height="2.4" rx="1.2" fill="#f4f2ec"/><rect x="754.6" y="1005.9" width="11.7" height="5.5" rx="1.2" fill="#fbf9f6"/><path d="M718.4 1004.8 Q719.4 1003.4 723.4 1003.4 L756.0 1003.6 L756.0 1006.0 L723.4 1006.3 Q719.4 1006.3 718.4 1004.8Z" fill="#1c1c1c"/><path d="M718.4 1012.5 Q719.4 1011.1 723.4 1011.1 L756.0 1011.3 L756.0 1013.7 L723.4 1014.0 Q719.4 1014.0 718.4 1012.5Z" fill="#1c1c1c"/><rect x="752.8" y="1029.7" width="15.9" height="14.2" rx="2.2" fill="#141414"/><rect x="754.0" y="1030.5" width="12.9" height="2.4" rx="1.2" fill="#f4f2ec"/><rect x="754.6" y="1035.4" width="11.7" height="5.5" rx="1.2" fill="#fbf9f6"/><path d="M718.4 1034.3 Q719.4 1032.9 723.4 1032.9 L756.0 1033.1 L756.0 1035.5 L723.4 1035.8 Q719.4 1035.8 718.4 1034.3Z" fill="#1c1c1c"/><path d="M718.4 1042.0 Q719.4 1040.6 723.4 1040.6 L756.0 1040.8 L756.0 1043.2 L723.4 1043.5 Q719.4 1043.5 718.4 1042.0Z" fill="#1c1c1c"/><rect x="752.8" y="1059.2" width="15.9" height="14.2" rx="2.2" fill="#141414"/><rect x="754.0" y="1060.0" width="12.9" height="2.4" rx="1.2" fill="#f4f2ec"/><rect x="754.6" y="1064.9" width="11.7" height="5.5" rx="1.2" fill="#fbf9f6"/><path d="M718.4 1063.8 Q719.4 1062.3 723.4 1062.3 L756.0 1062.6 L756.0 1065.0 L723.4 1065.2 Q719.4 1065.2 718.4 1063.8Z" fill="#1c1c1c"/><path d="M718.4 1071.5 Q719.4 1070.0 723.4 1070.0 L756.0 1070.3 L756.0 1072.7 L723.4 1072.9 Q719.4 1072.9 718.4 1071.5Z" fill="#1c1c1c"/><rect x="752.8" y="1088.7" width="15.9" height="14.2" rx="2.2" fill="#141414"/><rect x="754.0" y="1089.5" width="12.9" height="2.4" rx="1.2" fill="#f4f2ec"/><rect x="754.6" y="1094.3" width="11.7" height="5.5" rx="1.2" fill="#fbf9f6"/><path d="M718.4 1093.2 Q719.4 1091.8 723.4 1091.8 L756.0 1092.0 L756.0 1094.5 L723.4 1094.7 Q719.4 1094.7 718.4 1093.2Z" fill="#1c1c1c"/><path d="M718.4 1101.0 Q719.4 1099.5 723.4 1099.5 L756.0 1099.8 L756.0 1102.2 L723.4 1102.4 Q719.4 1102.4 718.4 1101.0Z" fill="#1c1c1c"/><rect x="752.8" y="1118.1" width="15.9" height="14.2" rx="2.2" fill="#141414"/><rect x="754.0" y="1118.9" width="12.9" height="2.4" rx="1.2" fill="#f4f2ec"/><rect x="754.6" y="1123.8" width="11.7" height="5.5" rx="1.2" fill="#fbf9f6"/><path d="M718.4 1122.7 Q719.4 1121.3 723.4 1121.3 L756.0 1121.5 L756.0 1123.9 L723.4 1124.2 Q719.4 1124.2 718.4 1122.7Z" fill="#1c1c1c"/><path d="M718.4 1130.4 Q719.4 1129.0 723.4 1129.0 L756.0 1129.2 L756.0 1131.6 L723.4 1131.9 Q719.4 1131.9 718.4 1130.4Z" fill="#1c1c1c"/><rect x="752.8" y="1147.6" width="15.9" height="14.2" rx="2.2" fill="#141414"/><rect x="754.0" y="1148.4" width="12.9" height="2.4" rx="1.2" fill="#f4f2ec"/><rect x="754.6" y="1153.3" width="11.7" height="5.5" rx="1.2" fill="#fbf9f6"/><path d="M718.4 1152.2 Q719.4 1150.7 723.4 1150.7 L756.0 1151.0 L756.0 1153.4 L723.4 1153.6 Q719.4 1153.6 718.4 1152.2Z" fill="#1c1c1c"/><path d="M718.4 1159.9 Q719.4 1158.4 723.4 1158.4 L756.0 1158.7 L756.0 1161.1 L723.4 1161.3 Q719.4 1161.3 718.4 1159.9Z" fill="#1c1c1c"/><rect x="752.8" y="1177.1" width="15.9" height="14.2" rx="2.2" fill="#141414"/><rect x="754.0" y="1177.9" width="12.9" height="2.4" rx="1.2" fill="#f4f2ec"/><rect x="754.6" y="1182.8" width="11.7" height="5.5" rx="1.2" fill="#fbf9f6"/><path d="M718.4 1181.7 Q719.4 1180.2 723.4 1180.2 L756.0 1180.5 L756.0 1182.9 L723.4 1183.1 Q719.4 1183.1 718.4 1181.7Z" fill="#1c1c1c"/><path d="M718.4 1189.4 Q719.4 1187.9 723.4 1187.9 L756.0 1188.2 L756.0 1190.6 L723.4 1190.8 Q719.4 1190.8 718.4 1189.4Z" fill="#1c1c1c"/><rect x="752.8" y="1206.5" width="15.9" height="14.2" rx="2.2" fill="#141414"/><rect x="754.0" y="1207.3" width="12.9" height="2.4" rx="1.2" fill="#f4f2ec"/><rect x="754.6" y="1212.2" width="11.7" height="5.5" rx="1.2" fill="#fbf9f6"/><path d="M718.4 1211.1 Q719.4 1209.7 723.4 1209.7 L756.0 1209.9 L756.0 1212.3 L723.4 1212.6 Q719.4 1212.6 718.4 1211.1Z" fill="#1c1c1c"/><path d="M718.4 1218.8 Q719.4 1217.4 723.4 1217.4 L756.0 1217.6 L756.0 1220.0 L723.4 1220.3 Q719.4 1220.3 718.4 1218.8Z" fill="#1c1c1c"/><rect x="752.8" y="1236.0" width="15.9" height="14.2" rx="2.2" fill="#141414"/><rect x="754.0" y="1236.8" width="12.9" height="2.4" rx="1.2" fill="#f4f2ec"/><rect x="754.6" y="1241.7" width="11.7" height="5.5" rx="1.2" fill="#fbf9f6"/><path d="M718.4 1240.6 Q719.4 1239.1 723.4 1239.1 L756.0 1239.4 L756.0 1241.8 L723.4 1242.0 Q719.4 1242.0 718.4 1240.6Z" fill="#1c1c1c"/><path d="M718.4 1248.3 Q719.4 1246.8 723.4 1246.8 L756.0 1247.1 L756.0 1249.5 L723.4 1249.8 Q719.4 1249.8 718.4 1248.3Z" fill="#1c1c1c"/><rect x="752.8" y="1265.5" width="15.9" height="14.2" rx="2.2" fill="#141414"/><rect x="754.0" y="1266.3" width="12.9" height="2.4" rx="1.2" fill="#f4f2ec"/><rect x="754.6" y="1271.2" width="11.7" height="5.5" rx="1.2" fill="#fbf9f6"/><path d="M718.4 1270.1 Q719.4 1268.6 723.4 1268.6 L756.0 1268.9 L756.0 1271.3 L723.4 1271.5 Q719.4 1271.5 718.4 1270.1Z" fill="#1c1c1c"/><path d="M718.4 1277.8 Q719.4 1276.3 723.4 1276.3 L756.0 1276.6 L756.0 1279.0 L723.4 1279.2 Q719.4 1279.2 718.4 1277.8Z" fill="#1c1c1c"/><rect x="752.8" y="1294.9" width="15.9" height="14.2" rx="2.2" fill="#141414"/><rect x="754.0" y="1295.7" width="12.9" height="2.4" rx="1.2" fill="#f4f2ec"/><rect x="754.6" y="1300.6" width="11.7" height="5.5" rx="1.2" fill="#fbf9f6"/><path d="M718.4 1299.5 Q719.4 1298.1 723.4 1298.1 L756.0 1298.3 L756.0 1300.7 L723.4 1301.0 Q719.4 1301.0 718.4 1299.5Z" fill="#1c1c1c"/><path d="M718.4 1307.2 Q719.4 1305.8 723.4 1305.8 L756.0 1306.0 L756.0 1308.4 L723.4 1308.7 Q719.4 1308.7 718.4 1307.2Z" fill="#1c1c1c"/><rect x="752.8" y="1324.4" width="15.9" height="14.2" rx="2.2" fill="#141414"/><rect x="754.0" y="1325.2" width="12.9" height="2.4" rx="1.2" fill="#f4f2ec"/><rect x="754.6" y="1330.1" width="11.7" height="5.5" rx="1.2" fill="#fbf9f6"/><path d="M718.4 1329.0 Q719.4 1327.6 723.4 1327.6 L756.0 1327.8 L756.0 1330.2 L723.4 1330.5 Q719.4 1330.5 718.4 1329.0Z" fill="#1c1c1c"/><path d="M718.4 1336.7 Q719.4 1335.3 723.4 1335.3 L756.0 1335.5 L756.0 1337.9 L723.4 1338.2 Q719.4 1338.2 718.4 1336.7Z" fill="#1c1c1c"/><path d="M848 821.6 L1168 821.6 Q1180 821.6 1180 833.6 L1180 1357.3 Q1180 1369.3 1168 1369.3 L848 1369.3 Q843 1369.3 843 1364.3 L843 826.6 Q843 821.6 848 821.6Z" fill="#a8eaf5"/><path d="M843 826.6 Q843 821.6 848 821.6 L860 821.6 L860 1369.3 L848 1369.3 Q843 1369.3 843 1364.3Z" fill="url(#gshadeBlue)"/><path d="M848 830.6 L1162 830.6 Q1172 830.6 1172 840.6 L1172 1351.4 Q1172 1361.4 1162 1361.4 L848 1361.4" fill="none" stroke="#e9fcff" stroke-opacity="1.0" stroke-width="1.3" stroke-dasharray="7.0 4.5" stroke-dashoffset="-2.25"/><path d="M848 830.6 L1162 830.6 Q1172 830.6 1172 840.6 L1172 1351.4 Q1172 1361.4 1162 1361.4 L848 1361.4" fill="none" stroke="#163848" stroke-width="1.9" stroke-dasharray="3.5 8.0" stroke-dashoffset="1.75" stroke-linecap="butt"/><path d="M961.7 877.3 Q961.7 869.9 969.7 869.9" fill="none" stroke="#6aaebb" stroke-width="1.7" stroke-linecap="round"/><path d="M1059.0 869.9 Q1067.0 869.9 1067.0 877.3" fill="none" stroke="#6aaebb" stroke-width="1.7" stroke-linecap="round"/><path d="M961.7 893.0 Q961.7 899.8 969.7 899.8 L1059.0 899.8 Q1067.0 899.8 1067.0 893.0" fill="none" stroke="#6aaebb" stroke-width="1.7" stroke-linecap="round"/><text x="969.5" y="893.3" font-size="22" textLength="89.5" lengthAdjust="spacingAndGlyphs" fill="#8fd0dc" stroke="#66adba" stroke-width="0.75">2025-26</text><g transform="translate(1038.00 856.00) scale(0.4392 0.4583)"><path d="M0 35.3 C8 34 12 32 15 28.5 C22 19 33 7 48 2.5 C56 0.3 66 0 74 2 L66.6 4.7 L60 8.3 L53.4 11.3 L57.6 14.3 L47.4 17.9 L53 20 L42.6 23.9 L47 25.5 L37.8 28.1 C32 31 24 35 13 36 C8 36.3 4 36 0 35.3Z" fill="#6fb2bf"/><path d="M14 33 C25 22 40 9 66 3" fill="none" stroke="#a5dbe6" stroke-width="1.59"/></g><path d="M1091 820.5 Q1091 819 1094 819 L1119 819 Q1122 819 1122 820.5 L1122 1369.7 Q1122 1371.2 1119 1371.2 L1094 1371.2 Q1091 1371.2 1091 1369.7Z" fill="#52c4ef"/><line x1="1092.03" y1="819.5" x2="1092.03" y2="1370.7" stroke="#86e3ff" stroke-width="1.1" opacity="0.55"/><line x1="1093.69" y1="819.5" x2="1093.69" y2="1370.7" stroke="#3aa8da" stroke-width="0.9" opacity="0.45"/><line x1="1095.48" y1="819.5" x2="1095.48" y2="1370.7" stroke="#86e3ff" stroke-width="1.1" opacity="0.55"/><line x1="1097.13" y1="819.5" x2="1097.13" y2="1370.7" stroke="#3aa8da" stroke-width="0.9" opacity="0.45"/><line x1="1098.92" y1="819.5" x2="1098.92" y2="1370.7" stroke="#86e3ff" stroke-width="1.1" opacity="0.55"/><line x1="1100.58" y1="819.5" x2="1100.58" y2="1370.7" stroke="#3aa8da" stroke-width="0.9" opacity="0.45"/><line x1="1102.37" y1="819.5" x2="1102.37" y2="1370.7" stroke="#86e3ff" stroke-width="1.1" opacity="0.55"/><line x1="1104.02" y1="819.5" x2="1104.02" y2="1370.7" stroke="#3aa8da" stroke-width="0.9" opacity="0.45"/><line x1="1105.81" y1="819.5" x2="1105.81" y2="1370.7" stroke="#86e3ff" stroke-width="1.1" opacity="0.55"/><line x1="1107.46" y1="819.5" x2="1107.46" y2="1370.7" stroke="#3aa8da" stroke-width="0.9" opacity="0.45"/><line x1="1109.26" y1="819.5" x2="1109.26" y2="1370.7" stroke="#86e3ff" stroke-width="1.1" opacity="0.55"/><line x1="1110.91" y1="819.5" x2="1110.91" y2="1370.7" stroke="#3aa8da" stroke-width="0.9" opacity="0.45"/><line x1="1112.70" y1="819.5" x2="1112.70" y2="1370.7" stroke="#86e3ff" stroke-width="1.1" opacity="0.55"/><line x1="1114.35" y1="819.5" x2="1114.35" y2="1370.7" stroke="#3aa8da" stroke-width="0.9" opacity="0.45"/><line x1="1116.14" y1="819.5" x2="1116.14" y2="1370.7" stroke="#86e3ff" stroke-width="1.1" opacity="0.55"/><line x1="1117.80" y1="819.5" x2="1117.80" y2="1370.7" stroke="#3aa8da" stroke-width="0.9" opacity="0.45"/><line x1="1119.59" y1="819.5" x2="1119.59" y2="1370.7" stroke="#86e3ff" stroke-width="1.1" opacity="0.55"/><line x1="1121.24" y1="819.5" x2="1121.24" y2="1370.7" stroke="#3aa8da" stroke-width="0.9" opacity="0.45"/><line x1="1091.8" y1="819" x2="1091.8" y2="1371.2" stroke="#000" stroke-opacity="0.12" stroke-width="1.6"/><line x1="1121.2" y1="819" x2="1121.2" y2="1371.2" stroke="#000" stroke-opacity="0.12" stroke-width="1.6"/><path d="M1181 1064 L1218 1064 Q1221 1064 1221 1067 L1221 1115 Q1221 1118 1218 1118 L1181 1118 Q1181 1118 1181 1118 L1181 1064 Q1181 1064 1181 1064Z" fill="#66c8ef"/><line x1="1181" y1="1064.95" x2="1220" y2="1064.95" stroke="#a8e8fb" stroke-width="1.1" opacity="0.85"/><line x1="1181" y1="1066.54" x2="1220" y2="1066.54" stroke="#3ea6d6" stroke-width="1.0" opacity="0.8"/><line x1="1181" y1="1068.13" x2="1220" y2="1068.13" stroke="#a8e8fb" stroke-width="1.1" opacity="0.85"/><line x1="1181" y1="1069.72" x2="1220" y2="1069.72" stroke="#3ea6d6" stroke-width="1.0" opacity="0.8"/><line x1="1181" y1="1071.31" x2="1220" y2="1071.31" stroke="#a8e8fb" stroke-width="1.1" opacity="0.85"/><line x1="1181" y1="1072.89" x2="1220" y2="1072.89" stroke="#3ea6d6" stroke-width="1.0" opacity="0.8"/><line x1="1181" y1="1074.48" x2="1220" y2="1074.48" stroke="#a8e8fb" stroke-width="1.1" opacity="0.85"/><line x1="1181" y1="1076.07" x2="1220" y2="1076.07" stroke="#3ea6d6" stroke-width="1.0" opacity="0.8"/><line x1="1181" y1="1077.66" x2="1220" y2="1077.66" stroke="#a8e8fb" stroke-width="1.1" opacity="0.85"/><line x1="1181" y1="1079.25" x2="1220" y2="1079.25" stroke="#3ea6d6" stroke-width="1.0" opacity="0.8"/><line x1="1181" y1="1080.84" x2="1220" y2="1080.84" stroke="#a8e8fb" stroke-width="1.1" opacity="0.85"/><line x1="1181" y1="1082.42" x2="1220" y2="1082.42" stroke="#3ea6d6" stroke-width="1.0" opacity="0.8"/><line x1="1181" y1="1084.01" x2="1220" y2="1084.01" stroke="#a8e8fb" stroke-width="1.1" opacity="0.85"/><line x1="1181" y1="1085.60" x2="1220" y2="1085.60" stroke="#3ea6d6" stroke-width="1.0" opacity="0.8"/><line x1="1181" y1="1087.19" x2="1220" y2="1087.19" stroke="#a8e8fb" stroke-width="1.1" opacity="0.85"/><line x1="1181" y1="1088.78" x2="1220" y2="1088.78" stroke="#3ea6d6" stroke-width="1.0" opacity="0.8"/><line x1="1181" y1="1090.36" x2="1220" y2="1090.36" stroke="#a8e8fb" stroke-width="1.1" opacity="0.85"/><line x1="1181" y1="1091.95" x2="1220" y2="1091.95" stroke="#3ea6d6" stroke-width="1.0" opacity="0.8"/><line x1="1181" y1="1093.54" x2="1220" y2="1093.54" stroke="#a8e8fb" stroke-width="1.1" opacity="0.85"/><line x1="1181" y1="1095.13" x2="1220" y2="1095.13" stroke="#3ea6d6" stroke-width="1.0" opacity="0.8"/><line x1="1181" y1="1096.72" x2="1220" y2="1096.72" stroke="#a8e8fb" stroke-width="1.1" opacity="0.85"/><line x1="1181" y1="1098.31" x2="1220" y2="1098.31" stroke="#3ea6d6" stroke-width="1.0" opacity="0.8"/><line x1="1181" y1="1099.89" x2="1220" y2="1099.89" stroke="#a8e8fb" stroke-width="1.1" opacity="0.85"/><line x1="1181" y1="1101.48" x2="1220" y2="1101.48" stroke="#3ea6d6" stroke-width="1.0" opacity="0.8"/><line x1="1181" y1="1103.07" x2="1220" y2="1103.07" stroke="#a8e8fb" stroke-width="1.1" opacity="0.85"/><line x1="1181" y1="1104.66" x2="1220" y2="1104.66" stroke="#3ea6d6" stroke-width="1.0" opacity="0.8"/><line x1="1181" y1="1106.25" x2="1220" y2="1106.25" stroke="#a8e8fb" stroke-width="1.1" opacity="0.85"/><line x1="1181" y1="1107.84" x2="1220" y2="1107.84" stroke="#3ea6d6" stroke-width="1.0" opacity="0.8"/><line x1="1181" y1="1109.42" x2="1220" y2="1109.42" stroke="#a8e8fb" stroke-width="1.1" opacity="0.85"/><line x1="1181" y1="1111.01" x2="1220" y2="1111.01" stroke="#3ea6d6" stroke-width="1.0" opacity="0.8"/><line x1="1181" y1="1112.60" x2="1220" y2="1112.60" stroke="#a8e8fb" stroke-width="1.1" opacity="0.85"/><line x1="1181" y1="1114.19" x2="1220" y2="1114.19" stroke="#3ea6d6" stroke-width="1.0" opacity="0.8"/><line x1="1181" y1="1115.78" x2="1220" y2="1115.78" stroke="#a8e8fb" stroke-width="1.1" opacity="0.85"/><line x1="1181" y1="1117.36" x2="1220" y2="1117.36" stroke="#3ea6d6" stroke-width="1.0" opacity="0.8"/><path d="M1181 1064 L1218 1064 Q1221 1064 1221 1067 L1221 1115 Q1221 1118 1218 1118 L1181 1118 Q1181 1118 1181 1118 L1181 1064 Q1181 1064 1181 1064Z" fill="none" stroke="#a8e8fb" stroke-opacity="0.5" stroke-width="1"/><rect x="852.8" y="849.8" width="15.9" height="14.5" rx="2.2" fill="#141414"/><rect x="854.0" y="850.6" width="12.9" height="2.4" rx="1.2" fill="#f4f2ec"/><rect x="854.6" y="855.5" width="11.7" height="5.8" rx="1.2" fill="#fbf9f6"/><path d="M821.0 854.4 Q822.0 852.9 826.0 852.9 L856.0 853.2 L856.0 855.6 L826.0 855.9 Q822.0 855.9 821.0 854.4Z" fill="#1c1c1c"/><path d="M821.0 862.4 Q822.0 860.9 826.0 860.9 L856.0 861.2 L856.0 863.6 L826.0 863.9 Q822.0 863.9 821.0 862.4Z" fill="#1c1c1c"/><rect x="852.8" y="881.7" width="15.9" height="14.5" rx="2.2" fill="#141414"/><rect x="854.0" y="882.5" width="12.9" height="2.4" rx="1.2" fill="#f4f2ec"/><rect x="854.6" y="887.4" width="11.7" height="5.8" rx="1.2" fill="#fbf9f6"/><path d="M821.0 886.3 Q822.0 884.9 826.0 884.9 L856.0 885.1 L856.0 887.5 L826.0 887.8 Q822.0 887.8 821.0 886.3Z" fill="#1c1c1c"/><path d="M821.0 894.3 Q822.0 892.9 826.0 892.9 L856.0 893.1 L856.0 895.5 L826.0 895.8 Q822.0 895.8 821.0 894.3Z" fill="#1c1c1c"/><rect x="852.8" y="913.6" width="15.9" height="14.5" rx="2.2" fill="#141414"/><rect x="854.0" y="914.4" width="12.9" height="2.4" rx="1.2" fill="#f4f2ec"/><rect x="854.6" y="919.3" width="11.7" height="5.8" rx="1.2" fill="#fbf9f6"/><path d="M821.0 918.2 Q822.0 916.8 826.0 916.8 L856.0 917.0 L856.0 919.4 L826.0 919.7 Q822.0 919.7 821.0 918.2Z" fill="#1c1c1c"/><path d="M821.0 926.2 Q822.0 924.8 826.0 924.8 L856.0 925.0 L856.0 927.4 L826.0 927.7 Q822.0 927.7 821.0 926.2Z" fill="#1c1c1c"/><rect x="852.8" y="945.6" width="15.9" height="14.5" rx="2.2" fill="#141414"/><rect x="854.0" y="946.4" width="12.9" height="2.4" rx="1.2" fill="#f4f2ec"/><rect x="854.6" y="951.3" width="11.7" height="5.8" rx="1.2" fill="#fbf9f6"/><path d="M821.0 950.2 Q822.0 948.7 826.0 948.7 L856.0 949.0 L856.0 951.4 L826.0 951.6 Q822.0 951.6 821.0 950.2Z" fill="#1c1c1c"/><path d="M821.0 958.2 Q822.0 956.7 826.0 956.7 L856.0 957.0 L856.0 959.4 L826.0 959.6 Q822.0 959.6 821.0 958.2Z" fill="#1c1c1c"/><rect x="852.8" y="977.5" width="15.9" height="14.5" rx="2.2" fill="#141414"/><rect x="854.0" y="978.3" width="12.9" height="2.4" rx="1.2" fill="#f4f2ec"/><rect x="854.6" y="983.2" width="11.7" height="5.8" rx="1.2" fill="#fbf9f6"/><path d="M821.0 982.1 Q822.0 980.6 826.0 980.6 L856.0 980.9 L856.0 983.3 L826.0 983.5 Q822.0 983.5 821.0 982.1Z" fill="#1c1c1c"/><path d="M821.0 990.1 Q822.0 988.6 826.0 988.6 L856.0 988.9 L856.0 991.3 L826.0 991.5 Q822.0 991.5 821.0 990.1Z" fill="#1c1c1c"/><rect x="852.8" y="1009.4" width="15.9" height="14.5" rx="2.2" fill="#141414"/><rect x="854.0" y="1010.2" width="12.9" height="2.4" rx="1.2" fill="#f4f2ec"/><rect x="854.6" y="1015.1" width="11.7" height="5.8" rx="1.2" fill="#fbf9f6"/><path d="M821.0 1014.0 Q822.0 1012.5 826.0 1012.5 L856.0 1012.8 L856.0 1015.2 L826.0 1015.5 Q822.0 1015.5 821.0 1014.0Z" fill="#1c1c1c"/><path d="M821.0 1022.0 Q822.0 1020.5 826.0 1020.5 L856.0 1020.8 L856.0 1023.2 L826.0 1023.5 Q822.0 1023.5 821.0 1022.0Z" fill="#1c1c1c"/><rect x="852.8" y="1041.3" width="15.9" height="14.5" rx="2.2" fill="#141414"/><rect x="854.0" y="1042.1" width="12.9" height="2.4" rx="1.2" fill="#f4f2ec"/><rect x="854.6" y="1047.0" width="11.7" height="5.8" rx="1.2" fill="#fbf9f6"/><path d="M821.0 1045.9 Q822.0 1044.5 826.0 1044.5 L856.0 1044.7 L856.0 1047.1 L826.0 1047.4 Q822.0 1047.4 821.0 1045.9Z" fill="#1c1c1c"/><path d="M821.0 1053.9 Q822.0 1052.5 826.0 1052.5 L856.0 1052.7 L856.0 1055.1 L826.0 1055.4 Q822.0 1055.4 821.0 1053.9Z" fill="#1c1c1c"/><rect x="852.8" y="1073.2" width="15.9" height="14.5" rx="2.2" fill="#141414"/><rect x="854.0" y="1074.0" width="12.9" height="2.4" rx="1.2" fill="#f4f2ec"/><rect x="854.6" y="1078.9" width="11.7" height="5.8" rx="1.2" fill="#fbf9f6"/><path d="M821.0 1077.8 Q822.0 1076.4 826.0 1076.4 L856.0 1076.6 L856.0 1079.0 L826.0 1079.3 Q822.0 1079.3 821.0 1077.8Z" fill="#1c1c1c"/><path d="M821.0 1085.8 Q822.0 1084.4 826.0 1084.4 L856.0 1084.6 L856.0 1087.0 L826.0 1087.3 Q822.0 1087.3 821.0 1085.8Z" fill="#1c1c1c"/><rect x="852.8" y="1105.2" width="15.9" height="14.5" rx="2.2" fill="#141414"/><rect x="854.0" y="1106.0" width="12.9" height="2.4" rx="1.2" fill="#f4f2ec"/><rect x="854.6" y="1110.9" width="11.7" height="5.8" rx="1.2" fill="#fbf9f6"/><path d="M821.0 1109.8 Q822.0 1108.3 826.0 1108.3 L856.0 1108.6 L856.0 1111.0 L826.0 1111.2 Q822.0 1111.2 821.0 1109.8Z" fill="#1c1c1c"/><path d="M821.0 1117.8 Q822.0 1116.3 826.0 1116.3 L856.0 1116.6 L856.0 1119.0 L826.0 1119.2 Q822.0 1119.2 821.0 1117.8Z" fill="#1c1c1c"/><rect x="852.8" y="1137.1" width="15.9" height="14.5" rx="2.2" fill="#141414"/><rect x="854.0" y="1137.9" width="12.9" height="2.4" rx="1.2" fill="#f4f2ec"/><rect x="854.6" y="1142.8" width="11.7" height="5.8" rx="1.2" fill="#fbf9f6"/><path d="M821.0 1141.7 Q822.0 1140.2 826.0 1140.2 L856.0 1140.5 L856.0 1142.9 L826.0 1143.1 Q822.0 1143.1 821.0 1141.7Z" fill="#1c1c1c"/><path d="M821.0 1149.7 Q822.0 1148.2 826.0 1148.2 L856.0 1148.5 L856.0 1150.9 L826.0 1151.1 Q822.0 1151.1 821.0 1149.7Z" fill="#1c1c1c"/><rect x="852.8" y="1169.0" width="15.9" height="14.5" rx="2.2" fill="#141414"/><rect x="854.0" y="1169.8" width="12.9" height="2.4" rx="1.2" fill="#f4f2ec"/><rect x="854.6" y="1174.7" width="11.7" height="5.8" rx="1.2" fill="#fbf9f6"/><path d="M821.0 1173.6 Q822.0 1172.1 826.0 1172.1 L856.0 1172.4 L856.0 1174.8 L826.0 1175.0 Q822.0 1175.0 821.0 1173.6Z" fill="#1c1c1c"/><path d="M821.0 1181.6 Q822.0 1180.1 826.0 1180.1 L856.0 1180.4 L856.0 1182.8 L826.0 1183.0 Q822.0 1183.0 821.0 1181.6Z" fill="#1c1c1c"/><rect x="852.8" y="1200.9" width="15.9" height="14.5" rx="2.2" fill="#141414"/><rect x="854.0" y="1201.7" width="12.9" height="2.4" rx="1.2" fill="#f4f2ec"/><rect x="854.6" y="1206.6" width="11.7" height="5.8" rx="1.2" fill="#fbf9f6"/><path d="M821.0 1205.5 Q822.0 1204.1 826.0 1204.1 L856.0 1204.3 L856.0 1206.7 L826.0 1207.0 Q822.0 1207.0 821.0 1205.5Z" fill="#1c1c1c"/><path d="M821.0 1213.5 Q822.0 1212.1 826.0 1212.1 L856.0 1212.3 L856.0 1214.7 L826.0 1215.0 Q822.0 1215.0 821.0 1213.5Z" fill="#1c1c1c"/><rect x="852.8" y="1232.8" width="15.9" height="14.5" rx="2.2" fill="#141414"/><rect x="854.0" y="1233.6" width="12.9" height="2.4" rx="1.2" fill="#f4f2ec"/><rect x="854.6" y="1238.5" width="11.7" height="5.8" rx="1.2" fill="#fbf9f6"/><path d="M821.0 1237.4 Q822.0 1236.0 826.0 1236.0 L856.0 1236.2 L856.0 1238.6 L826.0 1238.9 Q822.0 1238.9 821.0 1237.4Z" fill="#1c1c1c"/><path d="M821.0 1245.4 Q822.0 1244.0 826.0 1244.0 L856.0 1244.2 L856.0 1246.6 L826.0 1246.9 Q822.0 1246.9 821.0 1245.4Z" fill="#1c1c1c"/><rect x="852.8" y="1264.8" width="15.9" height="14.5" rx="2.2" fill="#141414"/><rect x="854.0" y="1265.6" width="12.9" height="2.4" rx="1.2" fill="#f4f2ec"/><rect x="854.6" y="1270.5" width="11.7" height="5.8" rx="1.2" fill="#fbf9f6"/><path d="M821.0 1269.4 Q822.0 1267.9 826.0 1267.9 L856.0 1268.2 L856.0 1270.6 L826.0 1270.8 Q822.0 1270.8 821.0 1269.4Z" fill="#1c1c1c"/><path d="M821.0 1277.4 Q822.0 1275.9 826.0 1275.9 L856.0 1276.2 L856.0 1278.6 L826.0 1278.8 Q822.0 1278.8 821.0 1277.4Z" fill="#1c1c1c"/><rect x="852.8" y="1296.7" width="15.9" height="14.5" rx="2.2" fill="#141414"/><rect x="854.0" y="1297.5" width="12.9" height="2.4" rx="1.2" fill="#f4f2ec"/><rect x="854.6" y="1302.4" width="11.7" height="5.8" rx="1.2" fill="#fbf9f6"/><path d="M821.0 1301.3 Q822.0 1299.8 826.0 1299.8 L856.0 1300.1 L856.0 1302.5 L826.0 1302.7 Q822.0 1302.7 821.0 1301.3Z" fill="#1c1c1c"/><path d="M821.0 1309.3 Q822.0 1307.8 826.0 1307.8 L856.0 1308.1 L856.0 1310.5 L826.0 1310.7 Q822.0 1310.7 821.0 1309.3Z" fill="#1c1c1c"/><rect x="852.8" y="1328.6" width="15.9" height="14.5" rx="2.2" fill="#141414"/><rect x="854.0" y="1329.4" width="12.9" height="2.4" rx="1.2" fill="#f4f2ec"/><rect x="854.6" y="1334.3" width="11.7" height="5.8" rx="1.2" fill="#fbf9f6"/><path d="M821.0 1333.2 Q822.0 1331.8 826.0 1331.8 L856.0 1332.0 L856.0 1334.4 L826.0 1334.7 Q822.0 1334.7 821.0 1333.2Z" fill="#1c1c1c"/><path d="M821.0 1341.2 Q822.0 1339.8 826.0 1339.8 L856.0 1340.0 L856.0 1342.4 L826.0 1342.7 Q822.0 1342.7 821.0 1341.2Z" fill="#1c1c1c"/><line x1="562.2" y1="823.1" x2="625" y2="823.1" stroke="#2f2d2a" stroke-width="2.7" stroke-dasharray="10 6"/><line x1="627" y1="823.1" x2="843" y2="823.1" stroke="#f5f3ea" stroke-width="2.9" stroke-dasharray="11 6"/><line x1="579.5" y1="850" x2="579.5" y2="1345" stroke="#2f2d2a" stroke-width="2.3" stroke-dasharray="11 5.5"/><path d="M579.6 826 L590.5 852.1 L579.6 847.3 L568.6 852.1Z" fill="#3c3a37"/><path d="M579.6 1365.9 L590.7 1339.5 L579.6 1344.5 L568.3 1339.5Z" fill="#3c3a37"/><line x1="562.2" y1="1370.7" x2="621" y2="1370.7" stroke="#2f2d2a" stroke-width="2.8" stroke-dasharray="8.5 7.2"/><text transform="translate(523.3 980) rotate(90)" x="0" y="0" font-size="34" fill="#3a3935" textLength="232" lengthAdjust="spacingAndGlyphs">6inch/15.5cm</text><line x1="838.1" y1="1371.2" x2="838.1" y2="1430" stroke="#2f2d2a" stroke-width="2.3" stroke-dasharray="10.4 6.1"/><line x1="1181.2" y1="1371.2" x2="1181.2" y2="1430" stroke="#2f2d2a" stroke-width="2.3" stroke-dasharray="10.4 6.1"/><line x1="866" y1="1412.3" x2="1155" y2="1412.3" stroke="#2f2d2a" stroke-width="2.6" stroke-dasharray="10.7 5.5" stroke-dashoffset="-3"/><path d="M842.9 1412.3 L869 1401.3 L863.9 1412.3 L869 1423.2Z" fill="#3c3a37"/><path d="M1177.7 1412.3 L1152.1 1401.3 L1156.9 1412.3 L1152.1 1423.2Z" fill="#3c3a37"/><text x="918" y="1456.4" font-size="36.5" fill="#3a3935" textLength="186" lengthAdjust="spacingAndGlyphs">3inch/9cm</text></svg></body></html>
